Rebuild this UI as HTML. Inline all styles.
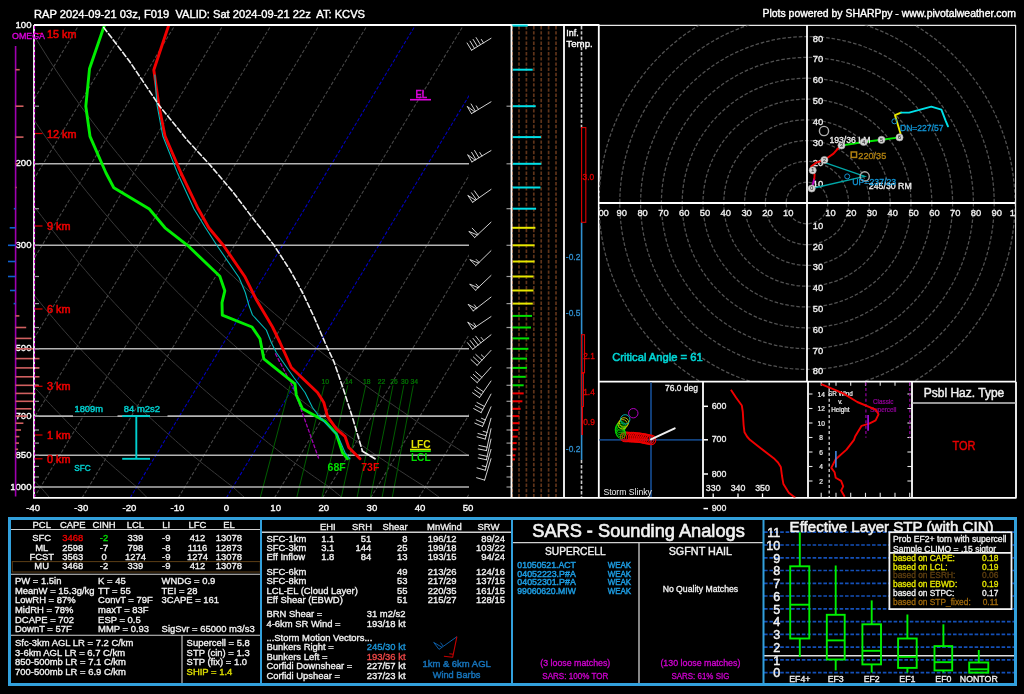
<!DOCTYPE html>
<html><head><meta charset="utf-8"><title>SHARPpy sounding</title>
<style>
html,body{margin:0;padding:0;background:#000;overflow:hidden}
svg{display:block;will-change:transform;font-family:"Liberation Sans",sans-serif}
text{white-space:pre}
</style></head><body>
<svg width="1024" height="694" viewBox="0 0 1024 694">
<rect x="0" y="0" width="1024" height="694" fill="#000"/>
<defs>
<clipPath id="skc"><rect x="34" y="25" width="435" height="472.5"/></clipPath>
<clipPath id="hoc"><rect x="599" y="25.5" width="417" height="356"/></clipPath>
<clipPath id="sl"><rect x="599" y="382" width="104" height="115.5"/></clipPath>
<clipPath id="thc"><rect x="703" y="382" width="105" height="115.5"/></clipPath>
<clipPath id="insc"><rect x="889" y="532" width="123" height="20.2"/></clipPath>
<clipPath id="src"><rect x="808" y="382" width="104" height="115.5"/></clipPath>
</defs>
<text x="34.0" y="18.0" font-size="10.30" fill="#fff" text-anchor="start" stroke="#fff" stroke-width="0.37" textLength="331.0" lengthAdjust="spacingAndGlyphs">RAP 2024-09-21 03z, F019  VALID: Sat 2024-09-21 22z  AT: KCVS</text>
<text x="1016.0" y="17.0" font-size="10.30" fill="#fff" text-anchor="end" stroke="#fff" stroke-width="0.37" textLength="253.5" lengthAdjust="spacingAndGlyphs">Plots powered by SHARPpy - www.pivotalweather.com</text>
<g clip-path="url(#skc)">
<polyline points="49.7,497.8 47.9,495.7 46.1,493.5 44.2,491.4 42.4,489.2 40.5,487.0 38.5,485.0 36.4,483.1 34.4,481.1 32.3,479.0 30.2,477.0 28.2,474.9 26.0,472.8 23.9,470.7 21.8,468.6 19.7,466.4 17.5,464.3 15.3,462.1 13.2,459.8 11.0,457.6 8.8,455.3 6.6,452.9 4.4,450.5 2.2,448.0 -0.0,445.6 -2.2,443.1 -4.5,440.5 -6.7,437.9 -9.0,435.3 -11.3,432.7 -13.6,430.0 -15.9,427.3 -18.2,424.6 -20.6,421.8 -23.0,419.0 -25.3,416.1 -27.8,413.2 -30.2,410.3 -32.7,407.3 -35.1,404.3 -37.6,401.3 -40.1,398.2 -42.7,395.0 -45.2,391.8 -47.8,388.6 -50.4,385.3 -53.0,381.9 -55.6,378.5 -58.3,375.0 -61.0,371.5 -63.7,367.9 -66.4,364.2 -69.2,360.5 -71.9,356.6 -74.7,352.8 -77.6,348.8 -80.4,344.7 -83.2,340.5 -86.1,336.3 -89.0,331.9 -92.0,327.5 -94.9,322.9 -97.9,318.2 -100.9,313.5 -104.0,308.6 -107.1,303.6 -110.2,298.5 -113.4,293.2 -116.6,287.8 -119.8,282.2 -123.1,276.5 -126.4,270.7 -129.7,264.6 -133.1,258.4 -136.6,251.9 -140.0,245.3 -143.6,238.5 -147.2,231.4 -150.8,224.1 -154.5,216.5 -158.3,208.7 -162.1,200.4 -165.9,191.9 -169.8,183.0 -173.8,173.6 -177.8,163.8 -181.9,153.5 -186.1,142.7 -190.3,131.3 -194.6,119.1 -198.9,106.2 -203.3,92.4 -207.7,77.5 -212.2,61.5 -216.7,44.1 -221.3,25.0" fill="none" stroke="#383838" stroke-width="1"/>
<polyline points="147.3,497.8 145.2,495.7 143.1,493.5 141.0,491.4 138.9,489.2 136.7,487.0 134.4,485.0 132.1,483.1 129.8,481.1 127.4,479.0 125.0,477.0 122.7,474.9 120.3,472.8 117.9,470.7 115.4,468.6 113.0,466.4 110.6,464.3 108.1,462.1 105.6,459.8 103.1,457.6 100.6,455.3 98.1,452.9 95.6,450.5 93.1,448.0 90.6,445.6 88.0,443.1 85.5,440.5 82.9,437.9 80.3,435.3 77.7,432.7 75.0,430.0 72.4,427.3 69.7,424.6 67.0,421.8 64.3,419.0 61.5,416.1 58.8,413.2 56.0,410.3 53.1,407.3 50.3,404.3 47.4,401.3 44.6,398.2 41.6,395.0 38.7,391.8 35.7,388.6 32.8,385.3 29.7,381.9 26.7,378.5 23.6,375.0 20.5,371.5 17.4,367.9 14.3,364.2 11.1,360.5 7.9,356.6 4.6,352.8 1.4,348.8 -1.9,344.7 -5.2,340.5 -8.6,336.3 -12.0,331.9 -15.4,327.5 -18.8,322.9 -22.3,318.2 -25.9,313.5 -29.4,308.6 -33.1,303.6 -36.7,298.5 -40.4,293.2 -44.2,287.8 -48.0,282.2 -51.8,276.5 -55.7,270.7 -59.7,264.6 -63.7,258.4 -67.7,251.9 -71.8,245.3 -76.0,238.5 -80.3,231.4 -84.6,224.1 -89.1,216.5 -93.5,208.7 -98.1,200.4 -102.7,191.9 -107.4,183.0 -112.2,173.6 -117.1,163.8 -122.1,153.5 -127.1,142.7 -132.3,131.3 -137.6,119.1 -143.0,106.2 -148.5,92.4 -154.0,77.5 -159.7,61.5 -165.5,44.1 -171.4,25.0" fill="none" stroke="#383838" stroke-width="1"/>
<polyline points="244.8,497.8 242.5,495.7 240.1,493.5 237.7,491.4 235.3,489.2 232.9,487.0 230.3,485.0 227.7,483.1 225.1,481.1 222.5,479.0 219.8,477.0 217.2,474.9 214.5,472.8 211.8,470.7 209.1,468.6 206.4,466.4 203.6,464.3 200.8,462.1 198.1,459.8 195.3,457.6 192.4,455.3 189.6,452.9 186.8,450.5 184.0,448.0 181.2,445.6 178.3,443.1 175.4,440.5 172.5,437.9 169.6,435.3 166.6,432.7 163.6,430.0 160.6,427.3 157.6,424.6 154.6,421.8 151.5,419.0 148.4,416.1 145.3,413.2 142.1,410.3 138.9,407.3 135.7,404.3 132.5,401.3 129.2,398.2 125.9,395.0 122.6,391.8 119.3,388.6 115.9,385.3 112.5,381.9 109.0,378.5 105.6,375.0 102.1,371.5 98.5,367.9 94.9,364.2 91.3,360.5 87.7,356.6 84.0,352.8 80.3,348.8 76.5,344.7 72.8,340.5 69.0,336.3 65.1,331.9 61.2,327.5 57.2,322.9 53.3,318.2 49.2,313.5 45.1,308.6 41.0,303.6 36.8,298.5 32.5,293.2 28.2,287.8 23.9,282.2 19.5,276.5 15.0,270.7 10.4,264.6 5.8,258.4 1.1,251.9 -3.6,245.3 -8.5,238.5 -13.4,231.4 -18.5,224.1 -23.6,216.5 -28.8,208.7 -34.1,200.4 -39.5,191.9 -45.0,183.0 -50.6,173.6 -56.3,163.8 -62.2,153.5 -68.2,142.7 -74.3,131.3 -80.6,119.1 -87.0,106.2 -93.6,92.4 -100.3,77.5 -107.2,61.5 -114.3,44.1 -121.6,25.0" fill="none" stroke="#383838" stroke-width="1"/>
<polyline points="342.4,497.8 339.8,495.7 337.1,493.5 334.5,491.4 331.8,489.2 329.1,487.0 326.3,485.0 323.4,483.1 320.5,481.1 317.6,479.0 314.6,477.0 311.7,474.9 308.7,472.8 305.7,470.7 302.7,468.6 299.7,466.4 296.7,464.3 293.6,462.1 290.5,459.8 287.4,457.6 284.3,455.3 281.2,452.9 278.0,450.5 274.9,448.0 271.7,445.6 268.5,443.1 265.3,440.5 262.1,437.9 258.8,435.3 255.5,432.7 252.2,430.0 248.9,427.3 245.5,424.6 242.2,421.8 238.7,419.0 235.3,416.1 231.8,413.2 228.3,410.3 224.7,407.3 221.2,404.3 217.6,401.3 213.9,398.2 210.2,395.0 206.5,391.8 202.8,388.6 199.0,385.3 195.2,381.9 191.4,378.5 187.5,375.0 183.6,371.5 179.6,367.9 175.6,364.2 171.6,360.5 167.5,356.6 163.4,352.8 159.2,348.8 155.0,344.7 150.8,340.5 146.5,336.3 142.2,331.9 137.8,327.5 133.3,322.9 128.8,318.2 124.3,313.5 119.7,308.6 115.0,303.6 110.3,298.5 105.5,293.2 100.7,287.8 95.7,282.2 90.7,276.5 85.7,270.7 80.5,264.6 75.3,258.4 70.0,251.9 64.6,245.3 59.0,238.5 53.4,231.4 47.7,224.1 41.9,216.5 35.9,208.7 29.9,200.4 23.7,191.9 17.4,183.0 11.0,173.6 4.4,163.8 -2.3,153.5 -9.3,142.7 -16.3,131.3 -23.6,119.1 -31.1,106.2 -38.7,92.4 -46.6,77.5 -54.8,61.5 -63.1,44.1 -71.8,25.0" fill="none" stroke="#383838" stroke-width="1"/>
<polyline points="439.9,497.8 437.1,495.7 434.1,493.5 431.2,491.4 428.3,489.2 425.3,487.0 422.2,485.0 419.0,483.1 415.9,481.1 412.7,479.0 409.4,477.0 406.2,474.9 403.0,472.8 399.7,470.7 396.4,468.6 393.1,466.4 389.7,464.3 386.3,462.1 383.0,459.8 379.5,457.6 376.1,455.3 372.7,452.9 369.3,450.5 365.8,448.0 362.3,445.6 358.8,443.1 355.3,440.5 351.7,437.9 348.1,435.3 344.5,432.7 340.8,430.0 337.2,427.3 333.5,424.6 329.7,421.8 326.0,419.0 322.2,416.1 318.3,413.2 314.5,410.3 310.5,407.3 306.6,404.3 302.6,401.3 298.6,398.2 294.6,395.0 290.5,391.8 286.3,388.6 282.2,385.3 278.0,381.9 273.7,378.5 269.4,375.0 265.1,371.5 260.7,367.9 256.3,364.2 251.8,360.5 247.3,356.6 242.7,352.8 238.1,348.8 233.5,344.7 228.8,340.5 224.0,336.3 219.2,331.9 214.3,327.5 209.4,322.9 204.4,318.2 199.4,313.5 194.3,308.6 189.1,303.6 183.8,298.5 178.5,293.2 173.1,287.8 167.6,282.2 162.0,276.5 156.3,270.7 150.6,264.6 144.8,258.4 138.8,251.9 132.8,245.3 126.6,238.5 120.3,231.4 113.9,224.1 107.4,216.5 100.7,208.7 93.9,200.4 86.9,191.9 79.8,183.0 72.6,173.6 65.1,163.8 57.5,153.5 49.7,142.7 41.6,131.3 33.4,119.1 24.9,106.2 16.1,92.4 7.1,77.5 -2.3,61.5 -11.9,44.1 -21.9,25.0" fill="none" stroke="#383838" stroke-width="1"/>
<polyline points="537.5,497.8 534.3,495.7 531.2,493.5 528.0,491.4 524.8,489.2 521.5,487.0 518.1,485.0 514.7,483.1 511.2,481.1 507.7,479.0 504.2,477.0 500.7,474.9 497.2,472.8 493.6,470.7 490.0,468.6 486.4,466.4 482.8,464.3 479.1,462.1 475.4,459.8 471.7,457.6 467.9,455.3 464.2,452.9 460.5,450.5 456.7,448.0 452.9,445.6 449.1,443.1 445.2,440.5 441.3,437.9 437.4,435.3 433.4,432.7 429.5,430.0 425.4,427.3 421.4,424.6 417.3,421.8 413.2,419.0 409.1,416.1 404.9,413.2 400.6,410.3 396.3,407.3 392.0,404.3 387.7,401.3 383.3,398.2 378.9,395.0 374.4,391.8 369.9,388.6 365.3,385.3 360.7,381.9 356.0,378.5 351.3,375.0 346.6,371.5 341.8,367.9 337.0,364.2 332.1,360.5 327.1,356.6 322.1,352.8 317.0,348.8 311.9,344.7 306.8,340.5 301.6,336.3 296.3,331.9 290.9,327.5 285.5,322.9 280.0,318.2 274.5,313.5 268.8,308.6 263.1,303.6 257.3,298.5 251.4,293.2 245.5,287.8 239.4,282.2 233.3,276.5 227.0,270.7 220.7,264.6 214.2,258.4 207.7,251.9 201.0,245.3 194.1,238.5 187.2,231.4 180.1,224.1 172.8,216.5 165.4,208.7 157.9,200.4 150.2,191.9 142.3,183.0 134.2,173.6 125.9,163.8 117.4,153.5 108.6,142.7 99.6,131.3 90.4,119.1 80.8,106.2 71.0,92.4 60.8,77.5 50.2,61.5 39.3,44.1 27.9,25.0" fill="none" stroke="#383838" stroke-width="1"/>
<line x1="-543.2" y1="497.8" x2="-257.9" y2="25.0" stroke="#484848" stroke-width="1.05" stroke-dasharray="3.5 1.8"/>
<line x1="-495.1" y1="497.8" x2="-209.8" y2="25.0" stroke="#484848" stroke-width="1.05" stroke-dasharray="3.5 1.8"/>
<line x1="-447.0" y1="497.8" x2="-161.7" y2="25.0" stroke="#484848" stroke-width="1.05" stroke-dasharray="3.5 1.8"/>
<line x1="-398.9" y1="497.8" x2="-113.6" y2="25.0" stroke="#484848" stroke-width="1.05" stroke-dasharray="3.5 1.8"/>
<line x1="-350.8" y1="497.8" x2="-65.5" y2="25.0" stroke="#484848" stroke-width="1.05" stroke-dasharray="3.5 1.8"/>
<line x1="-302.7" y1="497.8" x2="-17.4" y2="25.0" stroke="#484848" stroke-width="1.05" stroke-dasharray="3.5 1.8"/>
<line x1="-254.6" y1="497.8" x2="30.7" y2="25.0" stroke="#484848" stroke-width="1.05" stroke-dasharray="3.5 1.8"/>
<line x1="-206.5" y1="497.8" x2="78.8" y2="25.0" stroke="#484848" stroke-width="1.05" stroke-dasharray="3.5 1.8"/>
<line x1="-158.4" y1="497.8" x2="126.9" y2="25.0" stroke="#484848" stroke-width="1.05" stroke-dasharray="3.5 1.8"/>
<line x1="-110.3" y1="497.8" x2="175.0" y2="25.0" stroke="#484848" stroke-width="1.05" stroke-dasharray="3.5 1.8"/>
<line x1="-62.2" y1="497.8" x2="223.1" y2="25.0" stroke="#484848" stroke-width="1.05" stroke-dasharray="3.5 1.8"/>
<line x1="-14.1" y1="497.8" x2="271.2" y2="25.0" stroke="#484848" stroke-width="1.05" stroke-dasharray="3.5 1.8"/>
<line x1="34.0" y1="497.8" x2="319.3" y2="25.0" stroke="#484848" stroke-width="1.05" stroke-dasharray="3.5 1.8"/>
<line x1="82.1" y1="497.8" x2="367.4" y2="25.0" stroke="#484848" stroke-width="1.05" stroke-dasharray="3.5 1.8"/>
<line x1="130.2" y1="497.8" x2="415.5" y2="25.0" stroke="#0000c0" stroke-width="1.05" stroke-dasharray="3.5 1.8"/>
<line x1="178.3" y1="497.8" x2="463.6" y2="25.0" stroke="#484848" stroke-width="1.05" stroke-dasharray="3.5 1.8"/>
<line x1="226.4" y1="497.8" x2="511.7" y2="25.0" stroke="#0000c0" stroke-width="1.05" stroke-dasharray="3.5 1.8"/>
<line x1="274.5" y1="497.8" x2="559.8" y2="25.0" stroke="#484848" stroke-width="1.05" stroke-dasharray="3.5 1.8"/>
<line x1="322.6" y1="497.8" x2="607.9" y2="25.0" stroke="#484848" stroke-width="1.05" stroke-dasharray="3.5 1.8"/>
<line x1="370.7" y1="497.8" x2="656.0" y2="25.0" stroke="#484848" stroke-width="1.05" stroke-dasharray="3.5 1.8"/>
<line x1="418.8" y1="497.8" x2="704.1" y2="25.0" stroke="#484848" stroke-width="1.05" stroke-dasharray="3.5 1.8"/>
<line x1="466.9" y1="497.8" x2="752.2" y2="25.0" stroke="#484848" stroke-width="1.05" stroke-dasharray="3.5 1.8"/>
<line x1="260.2" y1="497.8" x2="290.1" y2="385.3" stroke="#005e00" stroke-width="1"/>
<line x1="296.7" y1="497.8" x2="324.3" y2="385.3" stroke="#005e00" stroke-width="1"/>
<line x1="321.9" y1="497.8" x2="347.8" y2="385.3" stroke="#005e00" stroke-width="1"/>
<line x1="341.2" y1="497.8" x2="365.8" y2="385.3" stroke="#005e00" stroke-width="1"/>
<line x1="357.0" y1="497.8" x2="380.5" y2="385.3" stroke="#005e00" stroke-width="1"/>
<line x1="370.4" y1="497.8" x2="393.0" y2="385.3" stroke="#005e00" stroke-width="1"/>
<line x1="382.0" y1="497.8" x2="403.8" y2="385.3" stroke="#005e00" stroke-width="1"/>
<line x1="392.2" y1="497.8" x2="413.3" y2="385.3" stroke="#005e00" stroke-width="1"/>
</g>
<text x="325.3" y="383.5" font-size="6.80" fill="#007800" text-anchor="middle" stroke="#007800" stroke-width="0.24">10</text>
<text x="348.8" y="383.5" font-size="6.80" fill="#007800" text-anchor="middle" stroke="#007800" stroke-width="0.24">14</text>
<text x="366.8" y="383.5" font-size="6.80" fill="#007800" text-anchor="middle" stroke="#007800" stroke-width="0.24">18</text>
<text x="381.5" y="383.5" font-size="6.80" fill="#007800" text-anchor="middle" stroke="#007800" stroke-width="0.24">22</text>
<text x="394.0" y="383.5" font-size="6.80" fill="#007800" text-anchor="middle" stroke="#007800" stroke-width="0.24">26</text>
<text x="404.8" y="383.5" font-size="6.80" fill="#007800" text-anchor="middle" stroke="#007800" stroke-width="0.24">30</text>
<text x="414.3" y="383.5" font-size="6.80" fill="#007800" text-anchor="middle" stroke="#007800" stroke-width="0.24">34</text>
<line x1="34.0" y1="163.8" x2="469.0" y2="163.8" stroke="#b4b4b4" stroke-width="1.6"/>
<line x1="34.0" y1="245.3" x2="469.0" y2="245.3" stroke="#b4b4b4" stroke-width="1.6"/>
<line x1="34.0" y1="348.8" x2="469.0" y2="348.8" stroke="#b4b4b4" stroke-width="1.6"/>
<line x1="34.0" y1="416.1" x2="469.0" y2="416.1" stroke="#b4b4b4" stroke-width="1.6"/>
<line x1="34.0" y1="455.3" x2="469.0" y2="455.3" stroke="#b4b4b4" stroke-width="1.6"/>
<line x1="34.0" y1="487.0" x2="469.0" y2="487.0" stroke="#b4b4b4" stroke-width="1.6"/>
<line x1="34.0" y1="106.2" x2="39.0" y2="106.2" stroke="#9a9a9a" stroke-width="1.2"/>
<line x1="506.5" y1="106.2" x2="511.5" y2="106.2" stroke="#9a9a9a" stroke-width="1.2"/>
<line x1="34.0" y1="163.8" x2="39.0" y2="163.8" stroke="#9a9a9a" stroke-width="1.2"/>
<line x1="506.5" y1="163.8" x2="511.5" y2="163.8" stroke="#9a9a9a" stroke-width="1.2"/>
<line x1="34.0" y1="208.7" x2="39.0" y2="208.7" stroke="#9a9a9a" stroke-width="1.2"/>
<line x1="506.5" y1="208.7" x2="511.5" y2="208.7" stroke="#9a9a9a" stroke-width="1.2"/>
<line x1="34.0" y1="245.3" x2="39.0" y2="245.3" stroke="#9a9a9a" stroke-width="1.2"/>
<line x1="506.5" y1="245.3" x2="511.5" y2="245.3" stroke="#9a9a9a" stroke-width="1.2"/>
<line x1="34.0" y1="276.5" x2="39.0" y2="276.5" stroke="#9a9a9a" stroke-width="1.2"/>
<line x1="506.5" y1="276.5" x2="511.5" y2="276.5" stroke="#9a9a9a" stroke-width="1.2"/>
<line x1="34.0" y1="303.6" x2="39.0" y2="303.6" stroke="#9a9a9a" stroke-width="1.2"/>
<line x1="506.5" y1="303.6" x2="511.5" y2="303.6" stroke="#9a9a9a" stroke-width="1.2"/>
<line x1="34.0" y1="327.5" x2="39.0" y2="327.5" stroke="#9a9a9a" stroke-width="1.2"/>
<line x1="506.5" y1="327.5" x2="511.5" y2="327.5" stroke="#9a9a9a" stroke-width="1.2"/>
<line x1="34.0" y1="348.8" x2="39.0" y2="348.8" stroke="#9a9a9a" stroke-width="1.2"/>
<line x1="506.5" y1="348.8" x2="511.5" y2="348.8" stroke="#9a9a9a" stroke-width="1.2"/>
<line x1="34.0" y1="367.9" x2="39.0" y2="367.9" stroke="#9a9a9a" stroke-width="1.2"/>
<line x1="506.5" y1="367.9" x2="511.5" y2="367.9" stroke="#9a9a9a" stroke-width="1.2"/>
<line x1="34.0" y1="385.3" x2="39.0" y2="385.3" stroke="#9a9a9a" stroke-width="1.2"/>
<line x1="506.5" y1="385.3" x2="511.5" y2="385.3" stroke="#9a9a9a" stroke-width="1.2"/>
<line x1="34.0" y1="401.3" x2="39.0" y2="401.3" stroke="#9a9a9a" stroke-width="1.2"/>
<line x1="506.5" y1="401.3" x2="511.5" y2="401.3" stroke="#9a9a9a" stroke-width="1.2"/>
<line x1="34.0" y1="416.1" x2="39.0" y2="416.1" stroke="#9a9a9a" stroke-width="1.2"/>
<line x1="506.5" y1="416.1" x2="511.5" y2="416.1" stroke="#9a9a9a" stroke-width="1.2"/>
<line x1="34.0" y1="430.0" x2="39.0" y2="430.0" stroke="#9a9a9a" stroke-width="1.2"/>
<line x1="506.5" y1="430.0" x2="511.5" y2="430.0" stroke="#9a9a9a" stroke-width="1.2"/>
<line x1="34.0" y1="443.1" x2="39.0" y2="443.1" stroke="#9a9a9a" stroke-width="1.2"/>
<line x1="506.5" y1="443.1" x2="511.5" y2="443.1" stroke="#9a9a9a" stroke-width="1.2"/>
<line x1="34.0" y1="455.3" x2="39.0" y2="455.3" stroke="#9a9a9a" stroke-width="1.2"/>
<line x1="506.5" y1="455.3" x2="511.5" y2="455.3" stroke="#9a9a9a" stroke-width="1.2"/>
<line x1="34.0" y1="466.4" x2="39.0" y2="466.4" stroke="#9a9a9a" stroke-width="1.2"/>
<line x1="506.5" y1="466.4" x2="511.5" y2="466.4" stroke="#9a9a9a" stroke-width="1.2"/>
<line x1="34.0" y1="477.0" x2="39.0" y2="477.0" stroke="#9a9a9a" stroke-width="1.2"/>
<line x1="506.5" y1="477.0" x2="511.5" y2="477.0" stroke="#9a9a9a" stroke-width="1.2"/>
<line x1="34.0" y1="487.0" x2="39.0" y2="487.0" stroke="#9a9a9a" stroke-width="1.2"/>
<line x1="506.5" y1="487.0" x2="511.5" y2="487.0" stroke="#9a9a9a" stroke-width="1.2"/>
<text x="31.5" y="28.3" font-size="9.60" fill="#fff" text-anchor="end" stroke="#fff" stroke-width="0.35">100</text>
<text x="31.5" y="166.3" font-size="9.60" fill="#fff" text-anchor="end" stroke="#fff" stroke-width="0.35">200</text>
<text x="31.5" y="247.8" font-size="9.60" fill="#fff" text-anchor="end" stroke="#fff" stroke-width="0.35">300</text>
<text x="31.5" y="351.3" font-size="9.60" fill="#fff" text-anchor="end" stroke="#fff" stroke-width="0.35">500</text>
<text x="31.5" y="418.6" font-size="9.60" fill="#fff" text-anchor="end" stroke="#fff" stroke-width="0.35">700</text>
<text x="31.5" y="457.8" font-size="9.60" fill="#fff" text-anchor="end" stroke="#fff" stroke-width="0.35">850</text>
<text x="31.5" y="489.5" font-size="9.60" fill="#fff" text-anchor="end" stroke="#fff" stroke-width="0.35">1000</text>
<text x="33.2" y="511.3" font-size="9.60" fill="#fff" text-anchor="middle" stroke="#fff" stroke-width="0.35">-40</text>
<text x="81.3" y="511.3" font-size="9.60" fill="#fff" text-anchor="middle" stroke="#fff" stroke-width="0.35">-30</text>
<text x="129.4" y="511.3" font-size="9.60" fill="#fff" text-anchor="middle" stroke="#fff" stroke-width="0.35">-20</text>
<text x="177.5" y="511.3" font-size="9.60" fill="#fff" text-anchor="middle" stroke="#fff" stroke-width="0.35">-10</text>
<text x="226.4" y="511.3" font-size="9.60" fill="#fff" text-anchor="middle" stroke="#fff" stroke-width="0.35">0</text>
<text x="275.7" y="511.3" font-size="9.60" fill="#fff" text-anchor="middle" stroke="#fff" stroke-width="0.35">10</text>
<text x="323.8" y="511.3" font-size="9.60" fill="#fff" text-anchor="middle" stroke="#fff" stroke-width="0.35">20</text>
<text x="371.9" y="511.3" font-size="9.60" fill="#fff" text-anchor="middle" stroke="#fff" stroke-width="0.35">30</text>
<text x="420.0" y="511.3" font-size="9.60" fill="#fff" text-anchor="middle" stroke="#fff" stroke-width="0.35">40</text>
<text x="468.1" y="511.3" font-size="9.60" fill="#fff" text-anchor="middle" stroke="#fff" stroke-width="0.35">50</text>
<line x1="15.6" y1="46.0" x2="15.6" y2="496.5" stroke="#a000b0" stroke-width="1.6"/>
<line x1="15.6" y1="69.7" x2="19.7" y2="69.7" stroke="#d06060" stroke-width="1.6"/>
<line x1="15.6" y1="106.2" x2="23.5" y2="106.2" stroke="#d06060" stroke-width="1.6"/>
<line x1="15.6" y1="137.1" x2="23.5" y2="137.1" stroke="#d06060" stroke-width="1.6"/>
<line x1="15.6" y1="163.8" x2="17.6" y2="163.8" stroke="#d06060" stroke-width="1.6"/>
<line x1="15.6" y1="187.5" x2="16.6" y2="187.5" stroke="#d06060" stroke-width="1.6"/>
<line x1="15.6" y1="208.7" x2="13.8" y2="208.7" stroke="#1060d0" stroke-width="1.6"/>
<line x1="15.6" y1="227.8" x2="9.7" y2="227.8" stroke="#1060d0" stroke-width="1.6"/>
<line x1="15.6" y1="245.3" x2="8.0" y2="245.3" stroke="#1060d0" stroke-width="1.6"/>
<line x1="15.6" y1="261.5" x2="8.0" y2="261.5" stroke="#1060d0" stroke-width="1.6"/>
<line x1="15.6" y1="276.5" x2="8.0" y2="276.5" stroke="#1060d0" stroke-width="1.6"/>
<line x1="15.6" y1="290.5" x2="10.0" y2="290.5" stroke="#1060d0" stroke-width="1.6"/>
<line x1="15.6" y1="303.6" x2="13.6" y2="303.6" stroke="#1060d0" stroke-width="1.6"/>
<line x1="15.6" y1="315.9" x2="19.4" y2="315.9" stroke="#d06060" stroke-width="1.6"/>
<line x1="15.6" y1="327.5" x2="26.2" y2="327.5" stroke="#d06060" stroke-width="1.6"/>
<line x1="15.6" y1="338.4" x2="31.5" y2="338.4" stroke="#d06060" stroke-width="1.6"/>
<line x1="15.6" y1="348.8" x2="34.3" y2="348.8" stroke="#d06060" stroke-width="1.6"/>
<line x1="15.6" y1="358.6" x2="39.5" y2="358.6" stroke="#d06060" stroke-width="1.6"/>
<line x1="15.6" y1="367.9" x2="39.5" y2="367.9" stroke="#d06060" stroke-width="1.6"/>
<line x1="15.6" y1="376.8" x2="39.5" y2="376.8" stroke="#d06060" stroke-width="1.6"/>
<line x1="15.6" y1="385.3" x2="38.3" y2="385.3" stroke="#d06060" stroke-width="1.6"/>
<line x1="15.6" y1="393.4" x2="35.5" y2="393.4" stroke="#d06060" stroke-width="1.6"/>
<line x1="15.6" y1="401.3" x2="34.3" y2="401.3" stroke="#d06060" stroke-width="1.6"/>
<line x1="15.6" y1="408.8" x2="31.5" y2="408.8" stroke="#d06060" stroke-width="1.6"/>
<line x1="15.6" y1="416.1" x2="27.4" y2="416.1" stroke="#d06060" stroke-width="1.6"/>
<line x1="15.6" y1="423.2" x2="23.4" y2="423.2" stroke="#d06060" stroke-width="1.6"/>
<line x1="15.6" y1="430.0" x2="21.0" y2="430.0" stroke="#d06060" stroke-width="1.6"/>
<line x1="15.6" y1="436.6" x2="19.4" y2="436.6" stroke="#d06060" stroke-width="1.6"/>
<line x1="15.6" y1="443.1" x2="19.0" y2="443.1" stroke="#d06060" stroke-width="1.6"/>
<line x1="15.6" y1="449.3" x2="18.1" y2="449.3" stroke="#d06060" stroke-width="1.6"/>
<line x1="15.6" y1="455.3" x2="17.0" y2="455.3" stroke="#d06060" stroke-width="1.6"/>
<line x1="34.0" y1="33.5" x2="42.5" y2="33.5" stroke="#d00000" stroke-width="1.25"/>
<text x="47.0" y="38.4" font-size="10.80" fill="#e80000" text-anchor="start" stroke="#e80000" stroke-width="0.59">15 km</text>
<line x1="34.0" y1="133.5" x2="42.5" y2="133.5" stroke="#d00000" stroke-width="1.25"/>
<text x="47.0" y="137.5" font-size="10.80" fill="#e80000" text-anchor="start" stroke="#e80000" stroke-width="0.59">12 km</text>
<line x1="34.0" y1="226.0" x2="42.5" y2="226.0" stroke="#d00000" stroke-width="1.25"/>
<text x="47.0" y="230.0" font-size="10.80" fill="#e80000" text-anchor="start" stroke="#e80000" stroke-width="0.59">9 km</text>
<line x1="34.0" y1="309.0" x2="42.5" y2="309.0" stroke="#d00000" stroke-width="1.25"/>
<text x="47.0" y="313.0" font-size="10.80" fill="#e80000" text-anchor="start" stroke="#e80000" stroke-width="0.59">6 km</text>
<line x1="34.0" y1="386.3" x2="42.5" y2="386.3" stroke="#d00000" stroke-width="1.25"/>
<text x="47.0" y="390.3" font-size="10.80" fill="#e80000" text-anchor="start" stroke="#e80000" stroke-width="0.59">3 km</text>
<line x1="34.0" y1="435.0" x2="42.5" y2="435.0" stroke="#d00000" stroke-width="1.25"/>
<text x="47.0" y="439.0" font-size="10.80" fill="#e80000" text-anchor="start" stroke="#e80000" stroke-width="0.59">1 km</text>
<line x1="34.0" y1="458.8" x2="42.5" y2="458.8" stroke="#d00000" stroke-width="1.25"/>
<text x="47.0" y="462.8" font-size="10.80" fill="#e80000" text-anchor="start" stroke="#e80000" stroke-width="0.59">0 km</text>
<g clip-path="url(#skc)" stroke-linejoin="round" stroke-linecap="round">
<polyline points="275.5,353.8 284.0,370.0 293.8,388.8 306.0,423.0 318.8,458.8" fill="none" stroke="#a000b0" stroke-width="1.3" stroke-dasharray="3 2.5"/>
<polyline points="104.5,25.0 89.5,68.8 85.8,106.3 90.0,136.3 106.0,173.0 113.8,187.8 149.3,209.0 165.0,227.8 187.5,245.3 219.8,276.2 224.8,290.8 222.0,302.6 222.3,315.2 252.0,327.0 260.0,338.8 263.8,358.8 295.0,383.8 296.3,395.0 302.5,408.8 325.0,421.3 336.3,433.8 342.5,452.5 347.5,458.8" fill="none" stroke="#00ee00" stroke-width="2.9"/>
<polyline points="168.8,25.0 153.8,70.0 158.8,105.0 165.0,136.0 181.0,173.0 198.2,208.8 208.8,227.8 223.3,245.2 244.6,276.2 256.5,300.0 272.5,327.0 280.0,342.5 291.3,367.5 317.5,392.5 323.8,402.5 327.5,416.3 336.3,428.8 345.0,436.3 348.8,447.5 360.0,458.8" fill="none" stroke="#f00000" stroke-width="2.9"/>
<polyline points="154.8,75.0 157.0,105.0 162.8,136.0 177.5,173.0 194.0,209.0 205.0,227.0 216.8,245.3 239.0,277.5 245.3,292.5 248.8,305.0 252.5,315.0 266.3,330.0 271.3,342.5 276.3,352.5 293.8,377.5 305.0,392.5 312.5,407.5 320.0,417.5 337.5,435.0 345.0,452.5 350.0,458.8" fill="none" stroke="#00b8b8" stroke-width="1.1"/>
<polyline points="103.8,27.5 130.0,62.0 158.8,105.0 188.0,141.0 210.0,165.0 233.0,192.0 251.3,216.3 273.8,245.0 290.0,270.0 302.5,292.5 314.0,317.0 325.0,342.5 333.8,361.3 343.0,388.0 352.5,417.5 362.5,451.3" fill="none" stroke="#f0f0f0" stroke-width="1.6" stroke-dasharray="5.2 2.6"/>
<polyline points="362.5,451.3 375.0,458.8" fill="none" stroke="#f0f0f0" stroke-width="1.8"/>
</g>
<text x="327.6" y="470.6" font-size="10.60" fill="#00e000" text-anchor="start" font-weight="bold" textLength="18.2" lengthAdjust="spacingAndGlyphs">68F</text>
<text x="361.2" y="470.6" font-size="10.60" fill="#f00000" text-anchor="start" font-weight="bold" textLength="18.2" lengthAdjust="spacingAndGlyphs">73F</text>
<text x="420.8" y="447.6" font-size="10.40" fill="#e6e600" text-anchor="middle" font-weight="bold" textLength="19.8" lengthAdjust="spacingAndGlyphs">LFC</text>
<line x1="410.0" y1="449.6" x2="430.8" y2="449.6" stroke="#e6e600" stroke-width="1.8"/>
<line x1="410.0" y1="451.2" x2="430.8" y2="451.2" stroke="#00e000" stroke-width="1.6"/>
<text x="420.8" y="461.3" font-size="10.40" fill="#00e000" text-anchor="middle" font-weight="bold" textLength="19.8" lengthAdjust="spacingAndGlyphs">LCL</text>
<text x="421.3" y="98.3" font-size="10.60" fill="#e000e0" text-anchor="middle" stroke="#e000e0" stroke-width="0.58" textLength="11.5" lengthAdjust="spacingAndGlyphs">EL</text>
<line x1="410.0" y1="99.7" x2="431.0" y2="99.7" stroke="#e000e0" stroke-width="1.6"/>
<rect x="73.0" y="414.5" width="44.5" height="1.9" stroke="none" fill="#000" stroke-width="1"/>
<rect x="150.0" y="414.5" width="17.5" height="1.9" stroke="none" fill="#000" stroke-width="1"/>
<line x1="136.3" y1="416.1" x2="136.3" y2="458.8" stroke="#00d0d0" stroke-width="1.9"/>
<line x1="122.2" y1="416.1" x2="150.0" y2="416.1" stroke="#00d0d0" stroke-width="1.9"/>
<line x1="122.2" y1="458.8" x2="150.0" y2="458.8" stroke="#00d0d0" stroke-width="1.9"/>
<text x="74.5" y="411.7" font-size="9.20" fill="#00cccc" text-anchor="start" stroke="#00cccc" stroke-width="0.46" textLength="28.5" lengthAdjust="spacingAndGlyphs">1809m</text>
<text x="123.8" y="411.7" font-size="9.20" fill="#00cccc" text-anchor="start" stroke="#00cccc" stroke-width="0.46" textLength="36.2" lengthAdjust="spacingAndGlyphs">84 m2s2</text>
<text x="74.2" y="470.8" font-size="9.20" fill="#00cccc" text-anchor="start" stroke="#00cccc" stroke-width="0.46" textLength="16.4" lengthAdjust="spacingAndGlyphs">SFC</text>
<path d="M491.0 38.3 L471.5 50.2 M471.5 50.2 L467.1 43.0 M474.5 48.4 L470.1 41.2 M477.5 46.6 L473.1 39.4 M480.5 44.7 L476.1 37.6 M483.5 42.9 L481.3 39.4" fill="none" stroke="#e8e8e8" stroke-width="0.9" stroke-linecap="round"/>
<path d="M491.0 101.8 L471.5 113.6 M471.5 113.6 L467.2 106.4 L474.6 111.7 M475.4 111.2 L471.1 104.0 M478.4 109.4 L476.3 105.9" fill="none" stroke="#e8e8e8" stroke-width="0.9" stroke-linecap="round"/>
<path d="M491.0 150.6 L471.9 161.9 M471.9 161.9 L467.6 154.7 L475.0 160.1 M475.9 159.6 L471.6 152.3 M478.9 157.8 L474.6 150.5 M481.9 156.0 L479.8 152.5" fill="none" stroke="#e8e8e8" stroke-width="0.9" stroke-linecap="round"/>
<path d="M491.0 189.4 L472.6 202.3 M472.6 202.3 L467.8 195.4 L475.5 200.2 M476.4 199.7 L471.5 192.8 M479.2 197.7 L474.4 190.8" fill="none" stroke="#e8e8e8" stroke-width="0.9" stroke-linecap="round"/>
<path d="M491.0 222.2 L474.6 237.5 M474.6 237.5 L468.9 231.4 L477.2 235.0 M478.0 234.4 L472.2 228.2" fill="none" stroke="#e8e8e8" stroke-width="0.9" stroke-linecap="round"/>
<path d="M491.0 250.7 L475.8 265.6 M475.8 265.6 L469.9 259.6 L478.4 263.1 M479.1 262.4 L476.2 259.5" fill="none" stroke="#e8e8e8" stroke-width="0.9" stroke-linecap="round"/>
<path d="M491.0 275.5 L475.5 290.2 M475.5 290.2 L469.7 284.1 L478.1 287.7 M478.8 287.0 L476.0 284.1" fill="none" stroke="#e8e8e8" stroke-width="0.9" stroke-linecap="round"/>
<path d="M491.0 297.1 L473.2 310.9 M473.2 310.9 L468.1 304.3 L476.0 308.7 M476.8 308.1 L474.3 304.8" fill="none" stroke="#e8e8e8" stroke-width="0.9" stroke-linecap="round"/>
<path d="M491.0 316.6 L472.4 329.1 M472.4 329.1 L467.7 322.1 L475.4 327.1 M476.2 326.5 L473.9 323.1" fill="none" stroke="#e8e8e8" stroke-width="0.9" stroke-linecap="round"/>
<path d="M491.0 334.8 L472.7 349.3 M472.7 349.3 L467.5 342.7 M475.4 347.1 L470.2 340.5 M478.2 345.0 L473.0 338.4 M480.9 342.8 L475.7 336.2 M483.7 340.6 L481.1 337.4" fill="none" stroke="#e8e8e8" stroke-width="0.9" stroke-linecap="round"/>
<path d="M491.0 350.4 L477.2 365.3 M477.2 365.3 L471.0 359.6 M479.6 362.7 L473.4 357.0 M482.0 360.2 L475.8 354.5 M484.3 357.6 L481.3 354.8" fill="none" stroke="#e8e8e8" stroke-width="0.9" stroke-linecap="round"/>
<path d="M491.0 367.2 L477.2 382.6 M477.2 382.6 L470.9 377.0 M479.5 380.0 L473.3 374.4 M481.9 377.4 L475.6 371.8" fill="none" stroke="#e8e8e8" stroke-width="0.9" stroke-linecap="round"/>
<path d="M491.0 381.0 L479.5 397.6 M479.5 397.6 L472.6 392.8 M481.5 394.7 L474.6 389.9 M483.5 391.8 L476.6 387.1" fill="none" stroke="#e8e8e8" stroke-width="0.9" stroke-linecap="round"/>
<path d="M491.0 394.1 L481.1 412.6 M481.1 412.6 L473.7 408.6 M482.8 409.5 L475.3 405.6 M484.4 406.4 L477.0 402.5" fill="none" stroke="#e8e8e8" stroke-width="0.9" stroke-linecap="round"/>
<path d="M491.0 406.8 L482.5 426.4 M482.5 426.4 L474.8 423.1 M483.9 423.2 L476.2 419.8 M485.3 420.0 L481.5 418.3" fill="none" stroke="#e8e8e8" stroke-width="0.9" stroke-linecap="round"/>
<path d="M491.0 418.3 L485.2 439.1 M485.2 439.1 L477.1 436.8 M486.1 435.7 L478.0 433.5 M487.1 432.4 L483.1 431.3" fill="none" stroke="#e8e8e8" stroke-width="0.9" stroke-linecap="round"/>
<path d="M491.0 428.7 L486.4 450.6 M486.4 450.6 L478.2 448.9 M487.1 447.2 L478.9 445.4" fill="none" stroke="#e8e8e8" stroke-width="0.9" stroke-linecap="round"/>
<path d="M491.0 439.1 L486.4 459.8 M486.4 459.8 L478.2 458.0 M487.2 456.4 L479.0 454.6" fill="none" stroke="#e8e8e8" stroke-width="0.9" stroke-linecap="round"/>
<path d="M491.0 449.4 L485.2 470.2 M485.2 470.2 L477.1 467.9 M486.1 466.8 L482.2 465.7" fill="none" stroke="#e8e8e8" stroke-width="0.9" stroke-linecap="round"/>
<path d="M491.0 458.7 L484.6 480.1 M484.6 480.1 L476.6 477.7" fill="none" stroke="#e8e8e8" stroke-width="0.9" stroke-linecap="round"/>
<line x1="34.0" y1="25.0" x2="599.5" y2="25.0" stroke="#fff" stroke-width="1.8"/>
<line x1="599.0" y1="25.3" x2="1016.0" y2="25.3" stroke="#e8e8e8" stroke-width="1.2"/>
<line x1="34.0" y1="25.0" x2="34.0" y2="497.8" stroke="#fff" stroke-width="1.8"/>
<line x1="33.1" y1="497.8" x2="1016.5" y2="497.8" stroke="#fff" stroke-width="1.8"/>
<line x1="34.6" y1="26.0" x2="34.6" y2="497.0" stroke="#e000e0" stroke-width="1.0" stroke-dasharray="3 2.2"/>
<text x="12.0" y="38.5" font-size="8.60" fill="#e000e0" text-anchor="start" stroke="#e000e0" stroke-width="0.31" textLength="33.0" lengthAdjust="spacingAndGlyphs">OMEGA</text>
<line x1="519.0" y1="26.0" x2="519.0" y2="497.0" stroke="#5e3319" stroke-width="1.7" stroke-dasharray="3.4 1.8"/>
<line x1="526.4" y1="26.0" x2="526.4" y2="497.0" stroke="#5e3319" stroke-width="1.7" stroke-dasharray="3.4 1.8"/>
<line x1="533.8" y1="26.0" x2="533.8" y2="497.0" stroke="#5e3319" stroke-width="1.7" stroke-dasharray="3.4 1.8"/>
<line x1="541.2" y1="26.0" x2="541.2" y2="497.0" stroke="#5e3319" stroke-width="1.7" stroke-dasharray="3.4 1.8"/>
<line x1="548.6" y1="26.0" x2="548.6" y2="497.0" stroke="#5e3319" stroke-width="1.7" stroke-dasharray="3.4 1.8"/>
<line x1="556.0" y1="26.0" x2="556.0" y2="497.0" stroke="#5e3319" stroke-width="1.7" stroke-dasharray="3.4 1.8"/>
<line x1="511.5" y1="25.6" x2="527.7" y2="25.6" stroke="#00e0e8" stroke-width="2.0"/>
<line x1="511.5" y1="69.7" x2="532.7" y2="69.7" stroke="#00e0e8" stroke-width="2.0"/>
<line x1="511.5" y1="106.2" x2="535.7" y2="106.2" stroke="#00e0e8" stroke-width="2.0"/>
<line x1="511.5" y1="137.1" x2="541.0" y2="137.1" stroke="#00e0e8" stroke-width="2.0"/>
<line x1="511.5" y1="163.8" x2="541.3" y2="163.8" stroke="#00e0e8" stroke-width="2.0"/>
<line x1="511.5" y1="187.5" x2="540.5" y2="187.5" stroke="#00e0e8" stroke-width="2.0"/>
<line x1="511.5" y1="208.7" x2="536.1" y2="208.7" stroke="#00e0e8" stroke-width="2.0"/>
<line x1="511.5" y1="227.8" x2="535.4" y2="227.8" stroke="#e8e800" stroke-width="2.0"/>
<line x1="511.5" y1="245.3" x2="534.6" y2="245.3" stroke="#e8e800" stroke-width="2.0"/>
<line x1="511.5" y1="261.5" x2="534.6" y2="261.5" stroke="#e8e800" stroke-width="2.0"/>
<line x1="511.5" y1="276.5" x2="533.5" y2="276.5" stroke="#e8e800" stroke-width="2.0"/>
<line x1="511.5" y1="290.5" x2="533.5" y2="290.5" stroke="#e8e800" stroke-width="2.0"/>
<line x1="511.5" y1="303.6" x2="532.8" y2="303.6" stroke="#e8e800" stroke-width="2.0"/>
<line x1="511.5" y1="315.9" x2="532.0" y2="315.9" stroke="#00e000" stroke-width="2.0"/>
<line x1="511.5" y1="327.5" x2="531.0" y2="327.5" stroke="#00e000" stroke-width="2.0"/>
<line x1="511.5" y1="338.4" x2="529.2" y2="338.4" stroke="#00e000" stroke-width="2.0"/>
<line x1="511.5" y1="348.8" x2="528.4" y2="348.8" stroke="#00e000" stroke-width="2.0"/>
<line x1="511.5" y1="358.6" x2="527.0" y2="358.6" stroke="#00e000" stroke-width="2.0"/>
<line x1="511.5" y1="367.9" x2="527.0" y2="367.9" stroke="#00e000" stroke-width="2.0"/>
<line x1="511.5" y1="376.8" x2="525.8" y2="376.8" stroke="#00e000" stroke-width="2.0"/>
<line x1="511.5" y1="385.3" x2="523.7" y2="385.3" stroke="#00e000" stroke-width="2.0"/>
<line x1="511.5" y1="393.4" x2="523.7" y2="393.4" stroke="#f00000" stroke-width="2.0"/>
<line x1="511.5" y1="401.3" x2="522.4" y2="401.3" stroke="#f00000" stroke-width="2.0"/>
<line x1="511.5" y1="408.8" x2="520.6" y2="408.8" stroke="#f00000" stroke-width="2.0"/>
<line x1="511.5" y1="416.1" x2="519.3" y2="416.1" stroke="#f00000" stroke-width="2.0"/>
<line x1="511.5" y1="423.2" x2="519.3" y2="423.2" stroke="#f00000" stroke-width="2.0"/>
<line x1="511.5" y1="430.0" x2="518.5" y2="430.0" stroke="#f00000" stroke-width="2.0"/>
<line x1="511.5" y1="436.6" x2="517.7" y2="436.6" stroke="#f00000" stroke-width="2.0"/>
<line x1="511.5" y1="443.1" x2="516.7" y2="443.1" stroke="#f00000" stroke-width="2.0"/>
<line x1="511.5" y1="449.3" x2="516.4" y2="449.3" stroke="#f00000" stroke-width="2.0"/>
<line x1="511.5" y1="455.3" x2="515.4" y2="455.3" stroke="#f00000" stroke-width="2.0"/>
<line x1="511.5" y1="459.4" x2="515.0" y2="459.4" stroke="#f00000" stroke-width="2.0"/>
<line x1="511.5" y1="25.0" x2="511.5" y2="497.8" stroke="#fff" stroke-width="1.8"/>
<line x1="512.4" y1="26.0" x2="512.4" y2="497.0" stroke="#c08868" stroke-width="0.9" stroke-dasharray="3.4 1.8"/>
<line x1="564.0" y1="25.0" x2="564.0" y2="497.8" stroke="#fff" stroke-width="1.8"/>
<line x1="598.8" y1="25.0" x2="598.8" y2="497.8" stroke="#fff" stroke-width="1.8"/>
<text x="566.3" y="35.5" font-size="9.40" fill="#fff" text-anchor="start" stroke="#fff" stroke-width="0.34" textLength="12.4" lengthAdjust="spacingAndGlyphs">Inf.</text>
<text x="566.3" y="46.8" font-size="9.40" fill="#fff" text-anchor="start" stroke="#fff" stroke-width="0.34" textLength="26.5" lengthAdjust="spacingAndGlyphs">Temp.</text>
<line x1="581.5" y1="26.0" x2="581.5" y2="127.6" stroke="#cccccc" stroke-width="1.6" stroke-dasharray="3.4 1.8"/>
<line x1="581.5" y1="459.8" x2="581.5" y2="497.0" stroke="#cccccc" stroke-width="1.6" stroke-dasharray="3.4 1.8"/>
<line x1="581.6" y1="222.3" x2="581.6" y2="459.8" stroke="#3090d0" stroke-width="1.6"/>
<rect x="581.6" y="127.6" width="4.2" height="94.7" stroke="#e00000" fill="none" stroke-width="1.1"/>
<rect x="581.6" y="334.7" width="2.9" height="38.1" stroke="#e00000" fill="none" stroke-width="1.1"/>
<rect x="581.6" y="372.8" width="1.9" height="33.8" stroke="#e00000" fill="none" stroke-width="1.0"/>
<line x1="582.2" y1="406.6" x2="582.2" y2="435.1" stroke="#e00000" stroke-width="1.6"/>
<text x="582.6" y="179.8" font-size="8.40" fill="#e00000" text-anchor="start" stroke="#e00000" stroke-width="0.30">3.0</text>
<text x="583.2" y="359.1" font-size="8.40" fill="#e00000" text-anchor="start" stroke="#e00000" stroke-width="0.30">2.1</text>
<text x="583.2" y="394.7" font-size="8.40" fill="#e00000" text-anchor="start" stroke="#e00000" stroke-width="0.30">1.4</text>
<text x="583.2" y="425.1" font-size="8.40" fill="#e00000" text-anchor="start" stroke="#e00000" stroke-width="0.30">0.9</text>
<text x="580.3" y="259.7" font-size="8.40" fill="#3090d0" text-anchor="end" stroke="#3090d0" stroke-width="0.30">-0.2</text>
<text x="580.3" y="316.0" font-size="8.40" fill="#3090d0" text-anchor="end" stroke="#3090d0" stroke-width="0.30">-0.5</text>
<text x="580.3" y="452.3" font-size="8.40" fill="#3090d0" text-anchor="end" stroke="#3090d0" stroke-width="0.30">-0.2</text>
<g clip-path="url(#hoc)">
<circle cx="807.0" cy="203.0" r="20.8" stroke="#525252" fill="none" stroke-width="1.25" stroke-dasharray="3.6 1.9"/>
<circle cx="807.0" cy="203.0" r="41.6" stroke="#525252" fill="none" stroke-width="1.25" stroke-dasharray="3.6 1.9"/>
<circle cx="807.0" cy="203.0" r="62.4" stroke="#525252" fill="none" stroke-width="1.25" stroke-dasharray="3.6 1.9"/>
<circle cx="807.0" cy="203.0" r="83.2" stroke="#525252" fill="none" stroke-width="1.25" stroke-dasharray="3.6 1.9"/>
<circle cx="807.0" cy="203.0" r="104.0" stroke="#525252" fill="none" stroke-width="1.25" stroke-dasharray="3.6 1.9"/>
<circle cx="807.0" cy="203.0" r="124.8" stroke="#525252" fill="none" stroke-width="1.25" stroke-dasharray="3.6 1.9"/>
<circle cx="807.0" cy="203.0" r="145.6" stroke="#525252" fill="none" stroke-width="1.25" stroke-dasharray="3.6 1.9"/>
<circle cx="807.0" cy="203.0" r="166.4" stroke="#525252" fill="none" stroke-width="1.25" stroke-dasharray="3.6 1.9"/>
<circle cx="807.0" cy="203.0" r="187.2" stroke="#525252" fill="none" stroke-width="1.25" stroke-dasharray="3.6 1.9"/>
<circle cx="807.0" cy="203.0" r="208.0" stroke="#525252" fill="none" stroke-width="1.25" stroke-dasharray="3.6 1.9"/>
</g>
<line x1="599.0" y1="203.0" x2="1016.0" y2="203.0" stroke="#fff" stroke-width="1.8"/>
<line x1="807.0" y1="25.0" x2="807.0" y2="381.7" stroke="#fff" stroke-width="1.8"/>
<g clip-path="url(#hoc)">
<text x="830.4" y="216.4" font-size="9.40" fill="#f0f0f0" text-anchor="middle" stroke="#f0f0f0" stroke-width="0.34">10</text>
<text x="788.2" y="216.4" font-size="9.40" fill="#f0f0f0" text-anchor="middle" stroke="#f0f0f0" stroke-width="0.34">10</text>
<text x="851.2" y="216.4" font-size="9.40" fill="#f0f0f0" text-anchor="middle" stroke="#f0f0f0" stroke-width="0.34">20</text>
<text x="767.4" y="216.4" font-size="9.40" fill="#f0f0f0" text-anchor="middle" stroke="#f0f0f0" stroke-width="0.34">20</text>
<text x="872.0" y="216.4" font-size="9.40" fill="#f0f0f0" text-anchor="middle" stroke="#f0f0f0" stroke-width="0.34">30</text>
<text x="746.6" y="216.4" font-size="9.40" fill="#f0f0f0" text-anchor="middle" stroke="#f0f0f0" stroke-width="0.34">30</text>
<text x="892.8" y="216.4" font-size="9.40" fill="#f0f0f0" text-anchor="middle" stroke="#f0f0f0" stroke-width="0.34">40</text>
<text x="725.8" y="216.4" font-size="9.40" fill="#f0f0f0" text-anchor="middle" stroke="#f0f0f0" stroke-width="0.34">40</text>
<text x="913.6" y="216.4" font-size="9.40" fill="#f0f0f0" text-anchor="middle" stroke="#f0f0f0" stroke-width="0.34">50</text>
<text x="705.0" y="216.4" font-size="9.40" fill="#f0f0f0" text-anchor="middle" stroke="#f0f0f0" stroke-width="0.34">50</text>
<text x="934.4" y="216.4" font-size="9.40" fill="#f0f0f0" text-anchor="middle" stroke="#f0f0f0" stroke-width="0.34">60</text>
<text x="684.2" y="216.4" font-size="9.40" fill="#f0f0f0" text-anchor="middle" stroke="#f0f0f0" stroke-width="0.34">60</text>
<text x="955.2" y="216.4" font-size="9.40" fill="#f0f0f0" text-anchor="middle" stroke="#f0f0f0" stroke-width="0.34">70</text>
<text x="663.4" y="216.4" font-size="9.40" fill="#f0f0f0" text-anchor="middle" stroke="#f0f0f0" stroke-width="0.34">70</text>
<text x="976.0" y="216.4" font-size="9.40" fill="#f0f0f0" text-anchor="middle" stroke="#f0f0f0" stroke-width="0.34">80</text>
<text x="642.6" y="216.4" font-size="9.40" fill="#f0f0f0" text-anchor="middle" stroke="#f0f0f0" stroke-width="0.34">80</text>
<text x="996.8" y="216.4" font-size="9.40" fill="#f0f0f0" text-anchor="middle" stroke="#f0f0f0" stroke-width="0.34">90</text>
<text x="621.8" y="216.4" font-size="9.40" fill="#f0f0f0" text-anchor="middle" stroke="#f0f0f0" stroke-width="0.34">90</text>
<text x="1017.6" y="216.4" font-size="9.40" fill="#f0f0f0" text-anchor="middle" stroke="#f0f0f0" stroke-width="0.34">100</text>
<text x="601.0" y="216.4" font-size="9.40" fill="#f0f0f0" text-anchor="middle" stroke="#f0f0f0" stroke-width="0.34">100</text>
<text x="818.0" y="187.2" font-size="9.40" fill="#f0f0f0" text-anchor="middle" stroke="#f0f0f0" stroke-width="0.34">10</text>
<text x="818.0" y="228.8" font-size="9.40" fill="#f0f0f0" text-anchor="middle" stroke="#f0f0f0" stroke-width="0.34">10</text>
<text x="818.0" y="166.4" font-size="9.40" fill="#f0f0f0" text-anchor="middle" stroke="#f0f0f0" stroke-width="0.34">20</text>
<text x="818.0" y="249.6" font-size="9.40" fill="#f0f0f0" text-anchor="middle" stroke="#f0f0f0" stroke-width="0.34">20</text>
<text x="818.0" y="145.6" font-size="9.40" fill="#f0f0f0" text-anchor="middle" stroke="#f0f0f0" stroke-width="0.34">30</text>
<text x="818.0" y="270.4" font-size="9.40" fill="#f0f0f0" text-anchor="middle" stroke="#f0f0f0" stroke-width="0.34">30</text>
<text x="818.0" y="124.8" font-size="9.40" fill="#f0f0f0" text-anchor="middle" stroke="#f0f0f0" stroke-width="0.34">40</text>
<text x="818.0" y="291.2" font-size="9.40" fill="#f0f0f0" text-anchor="middle" stroke="#f0f0f0" stroke-width="0.34">40</text>
<text x="818.0" y="104.0" font-size="9.40" fill="#f0f0f0" text-anchor="middle" stroke="#f0f0f0" stroke-width="0.34">50</text>
<text x="818.0" y="312.0" font-size="9.40" fill="#f0f0f0" text-anchor="middle" stroke="#f0f0f0" stroke-width="0.34">50</text>
<text x="818.0" y="83.2" font-size="9.40" fill="#f0f0f0" text-anchor="middle" stroke="#f0f0f0" stroke-width="0.34">60</text>
<text x="818.0" y="332.8" font-size="9.40" fill="#f0f0f0" text-anchor="middle" stroke="#f0f0f0" stroke-width="0.34">60</text>
<text x="818.0" y="62.4" font-size="9.40" fill="#f0f0f0" text-anchor="middle" stroke="#f0f0f0" stroke-width="0.34">70</text>
<text x="818.0" y="353.6" font-size="9.40" fill="#f0f0f0" text-anchor="middle" stroke="#f0f0f0" stroke-width="0.34">70</text>
<text x="818.0" y="41.6" font-size="9.40" fill="#f0f0f0" text-anchor="middle" stroke="#f0f0f0" stroke-width="0.34">80</text>
<text x="818.0" y="374.4" font-size="9.40" fill="#f0f0f0" text-anchor="middle" stroke="#f0f0f0" stroke-width="0.34">80</text>
</g>
<text x="612.2" y="361.1" font-size="11.00" fill="#00d4d4" text-anchor="start" stroke="#00d4d4" stroke-width="0.55" textLength="90.5" lengthAdjust="spacingAndGlyphs">Critical Angle = 61</text>
<polyline points="811.7,188.5 864.7,176.4 823.4,162.2" fill="none" stroke="#00a8a8" stroke-width="1.3"/>
<g stroke-linejoin="round" stroke-linecap="round">
<polyline points="811.7,188.5 814.3,178.8" fill="none" stroke="#c000c0" stroke-width="1.9"/>
<polyline points="814.3,178.8 814.6,174.5 812.7,170.3 811.2,166.5 816.3,162.6 824.4,160.0 833.5,153.6 838.0,148.5 841.5,145.5" fill="none" stroke="#f00000" stroke-width="1.9"/>
<polyline points="841.5,145.5 863.7,142.0 881.5,139.8 899.5,137.4" fill="none" stroke="#00e800" stroke-width="1.9"/>
<polyline points="899.5,137.4 900.5,133.4 895.0,115.2 901.0,112.6" fill="none" stroke="#e8e800" stroke-width="1.9"/>
<polyline points="901.0,112.6 909.1,112.6 931.3,106.7 941.4,109.6 945.5,120.3 948.0,126.3" fill="none" stroke="#00e0e8" stroke-width="1.9"/>
</g>
<circle cx="824.0" cy="131.0" r="4.6" stroke="#b0b0b0" fill="none" stroke-width="1.4"/>
<circle cx="864.7" cy="176.4" r="4.6" stroke="#b0b0b0" fill="none" stroke-width="1.4"/>
<circle cx="847.2" cy="176.4" r="2.5" stroke="#1490d0" fill="none" stroke-width="1.0"/>
<circle cx="894.4" cy="121.3" r="2.5" stroke="#1490d0" fill="none" stroke-width="1.0"/>
<rect x="851.2" y="152.0" width="5.4" height="5.4" stroke="#b08010" fill="none" stroke-width="1.5"/>
<text x="829.4" y="142.9" font-size="9.20" fill="#f0f0f0" text-anchor="start" stroke="#f0f0f0" stroke-width="0.33" textLength="41.0" lengthAdjust="spacingAndGlyphs">193/36 LM</text>
<text x="868.8" y="188.9" font-size="9.20" fill="#f0f0f0" text-anchor="start" stroke="#f0f0f0" stroke-width="0.33" textLength="43.0" lengthAdjust="spacingAndGlyphs">245/30 RM</text>
<text x="852.2" y="184.8" font-size="9.20" fill="#1094d4" text-anchor="start" stroke="#1094d4" stroke-width="0.33" textLength="44.0" lengthAdjust="spacingAndGlyphs">UP=237/23</text>
<text x="900.0" y="131.0" font-size="9.20" fill="#1094d4" text-anchor="start" stroke="#1094d4" stroke-width="0.33" textLength="43.5" lengthAdjust="spacingAndGlyphs">DN=227/57</text>
<text x="858.3" y="159.2" font-size="9.20" fill="#b08010" text-anchor="start" stroke="#b08010" stroke-width="0.33" textLength="28.0" lengthAdjust="spacingAndGlyphs">220/35</text>
<circle cx="811.7" cy="188.5" r="3.6" stroke="#a8a8a8" fill="#d4d4d4" stroke-width="0.6"/>
<text x="811.7" y="190.3" font-size="5.40" fill="#444" text-anchor="middle" stroke="#444" stroke-width="0.19">0</text>
<circle cx="812.7" cy="170.3" r="3.6" stroke="#a8a8a8" fill="#d4d4d4" stroke-width="0.6"/>
<text x="812.7" y="172.1" font-size="5.40" fill="#444" text-anchor="middle" stroke="#444" stroke-width="0.19">1</text>
<circle cx="824.4" cy="160.0" r="3.6" stroke="#a8a8a8" fill="#d4d4d4" stroke-width="0.6"/>
<text x="824.4" y="161.8" font-size="5.40" fill="#444" text-anchor="middle" stroke="#444" stroke-width="0.19">2</text>
<circle cx="841.5" cy="145.5" r="3.6" stroke="#a8a8a8" fill="#d4d4d4" stroke-width="0.6"/>
<text x="841.5" y="147.3" font-size="5.40" fill="#444" text-anchor="middle" stroke="#444" stroke-width="0.19">3</text>
<circle cx="863.7" cy="142.0" r="3.6" stroke="#a8a8a8" fill="#d4d4d4" stroke-width="0.6"/>
<text x="863.7" y="143.8" font-size="5.40" fill="#444" text-anchor="middle" stroke="#444" stroke-width="0.19">4</text>
<circle cx="881.5" cy="139.8" r="3.6" stroke="#a8a8a8" fill="#d4d4d4" stroke-width="0.6"/>
<text x="881.5" y="141.6" font-size="5.40" fill="#444" text-anchor="middle" stroke="#444" stroke-width="0.19">5</text>
<circle cx="899.5" cy="137.4" r="3.6" stroke="#a8a8a8" fill="#d4d4d4" stroke-width="0.6"/>
<text x="899.5" y="139.2" font-size="5.40" fill="#444" text-anchor="middle" stroke="#444" stroke-width="0.19">6</text>
<line x1="1015.6" y1="25.0" x2="1015.6" y2="381.7" stroke="#e8e8e8" stroke-width="1.2"/>
<line x1="1016.0" y1="381.7" x2="1016.0" y2="497.8" stroke="#fff" stroke-width="1.8"/>
<line x1="599.0" y1="381.7" x2="1016.0" y2="381.7" stroke="#fff" stroke-width="1.8"/>
<line x1="651.0" y1="382.5" x2="651.0" y2="497.0" stroke="#12427e" stroke-width="1.9"/>
<line x1="599.5" y1="439.9" x2="702.5" y2="439.9" stroke="#12427e" stroke-width="1.9"/>
<g clip-path="url(#sl)">
<circle cx="651.0" cy="439.9" r="4.8" stroke="#f00000" fill="none" stroke-width="1.1"/>
<circle cx="649.0" cy="439.5" r="4.8" stroke="#f00000" fill="none" stroke-width="1.1"/>
<circle cx="647.0" cy="439.1" r="4.8" stroke="#f00000" fill="none" stroke-width="1.1"/>
<circle cx="645.0" cy="438.7" r="4.8" stroke="#f00000" fill="none" stroke-width="1.1"/>
<circle cx="643.1" cy="438.3" r="4.8" stroke="#f00000" fill="none" stroke-width="1.1"/>
<circle cx="641.1" cy="438.0" r="4.8" stroke="#f00000" fill="none" stroke-width="1.1"/>
<circle cx="639.1" cy="437.7" r="4.8" stroke="#f00000" fill="none" stroke-width="1.1"/>
<circle cx="637.1" cy="437.5" r="4.8" stroke="#f00000" fill="none" stroke-width="1.1"/>
<circle cx="635.1" cy="437.3" r="4.8" stroke="#f00000" fill="none" stroke-width="1.1"/>
<circle cx="633.1" cy="437.2" r="4.8" stroke="#f00000" fill="none" stroke-width="1.1"/>
<circle cx="631.2" cy="437.1" r="4.8" stroke="#f00000" fill="none" stroke-width="1.1"/>
<circle cx="629.2" cy="437.0" r="4.8" stroke="#f00000" fill="none" stroke-width="1.1"/>
<circle cx="627.2" cy="436.9" r="4.8" stroke="#f00000" fill="none" stroke-width="1.1"/>
<circle cx="625.2" cy="436.9" r="4.8" stroke="#f00000" fill="none" stroke-width="1.1"/>
<circle cx="621.0" cy="433.6" r="4.7" stroke="#00e000" fill="none" stroke-width="0.85"/>
<circle cx="620.2" cy="431.8" r="4.7" stroke="#00e000" fill="none" stroke-width="0.85"/>
<circle cx="619.9" cy="429.8" r="4.7" stroke="#00e000" fill="none" stroke-width="0.85"/>
<circle cx="620.2" cy="428.0" r="4.7" stroke="#00e000" fill="none" stroke-width="0.85"/>
<circle cx="621.2" cy="426.3" r="4.7" stroke="#00e000" fill="none" stroke-width="0.85"/>
<circle cx="622.7" cy="424.3" r="4.7" stroke="#d8d800" fill="none" stroke-width="0.85"/>
<circle cx="624.0" cy="422.4" r="4.7" stroke="#d8d800" fill="none" stroke-width="0.85"/>
<circle cx="625.2" cy="419.4" r="4.7" stroke="#00c0c0" fill="none" stroke-width="0.9"/>
<circle cx="633.3" cy="413.2" r="4.7" stroke="#b000c0" fill="none" stroke-width="1.0"/>
</g>
<line x1="651.0" y1="439.4" x2="674.7" y2="428.3" stroke="#f0f0f0" stroke-width="2.0" stroke-linecap="round"/>
<text x="698.0" y="391.4" font-size="8.80" fill="#f0f0f0" text-anchor="end" stroke="#f0f0f0" stroke-width="0.32" textLength="33.0" lengthAdjust="spacingAndGlyphs">76.0 deg</text>
<text x="603.4" y="495.0" font-size="8.80" fill="#f0f0f0" text-anchor="start" textLength="48.5" lengthAdjust="spacingAndGlyphs">Storm Slinky</text>
<line x1="703.0" y1="381.7" x2="703.0" y2="497.8" stroke="#fff" stroke-width="1.8"/>
<line x1="703.5" y1="406.3" x2="708.0" y2="406.3" stroke="#fff" stroke-width="1.5"/>
<text x="711.7" y="408.9" font-size="8.80" fill="#f0f0f0" text-anchor="start" stroke="#f0f0f0" stroke-width="0.32">600</text>
<line x1="703.5" y1="439.8" x2="708.0" y2="439.8" stroke="#fff" stroke-width="1.5"/>
<text x="711.7" y="442.4" font-size="8.80" fill="#f0f0f0" text-anchor="start" stroke="#f0f0f0" stroke-width="0.32">700</text>
<line x1="703.5" y1="474.0" x2="708.0" y2="474.0" stroke="#fff" stroke-width="1.5"/>
<text x="711.7" y="476.6" font-size="8.80" fill="#f0f0f0" text-anchor="start" stroke="#f0f0f0" stroke-width="0.32">800</text>
<line x1="703.5" y1="508.6" x2="708.0" y2="508.6" stroke="#fff" stroke-width="1.5"/>
<text x="711.7" y="511.2" font-size="8.80" fill="#f0f0f0" text-anchor="start" stroke="#f0f0f0" stroke-width="0.32">900</text>
<line x1="713.2" y1="493.4" x2="713.2" y2="497.5" stroke="#fff" stroke-width="1.3"/>
<text x="713.2" y="491.1" font-size="8.80" fill="#f0f0f0" text-anchor="middle" stroke="#f0f0f0" stroke-width="0.32">330</text>
<line x1="738.0" y1="493.4" x2="738.0" y2="497.5" stroke="#fff" stroke-width="1.3"/>
<text x="738.0" y="491.1" font-size="8.80" fill="#f0f0f0" text-anchor="middle" stroke="#f0f0f0" stroke-width="0.32">340</text>
<line x1="762.5" y1="493.4" x2="762.5" y2="497.5" stroke="#fff" stroke-width="1.3"/>
<text x="762.5" y="491.1" font-size="8.80" fill="#f0f0f0" text-anchor="middle" stroke="#f0f0f0" stroke-width="0.32">350</text>
<g clip-path="url(#thc)">
<polyline points="730.9,389.7 736.0,397.5 741.8,405.5 742.8,412.0 743.6,425.0 744.5,432.3 747.0,436.5 749.9,439.8 761.0,448.5 773.7,458.2 778.0,462.5 780.8,466.9 782.0,476.0 783.4,484.1 788.8,492.8 795.3,497.8" fill="none" stroke="#f00000" stroke-width="1.9" stroke-linejoin="round"/>
</g>
<line x1="808.0" y1="381.7" x2="808.0" y2="497.8" stroke="#fff" stroke-width="1.8"/>
<line x1="808.5" y1="481.0" x2="812.5" y2="481.0" stroke="#e0e0e0" stroke-width="1.1"/>
<line x1="907.4" y1="481.0" x2="911.5" y2="481.0" stroke="#e0e0e0" stroke-width="1.1"/>
<text x="821.2" y="483.6" font-size="6.60" fill="#e8e8e8" text-anchor="middle" stroke="#e8e8e8" stroke-width="0.24">2</text>
<line x1="808.5" y1="466.5" x2="812.5" y2="466.5" stroke="#e0e0e0" stroke-width="1.1"/>
<line x1="907.4" y1="466.5" x2="911.5" y2="466.5" stroke="#e0e0e0" stroke-width="1.1"/>
<text x="821.2" y="469.1" font-size="6.60" fill="#e8e8e8" text-anchor="middle" stroke="#e8e8e8" stroke-width="0.24">4</text>
<line x1="808.5" y1="452.0" x2="812.5" y2="452.0" stroke="#e0e0e0" stroke-width="1.1"/>
<line x1="907.4" y1="452.0" x2="911.5" y2="452.0" stroke="#e0e0e0" stroke-width="1.1"/>
<text x="821.2" y="454.6" font-size="6.60" fill="#e8e8e8" text-anchor="middle" stroke="#e8e8e8" stroke-width="0.24">6</text>
<line x1="808.5" y1="437.5" x2="812.5" y2="437.5" stroke="#e0e0e0" stroke-width="1.1"/>
<line x1="907.4" y1="437.5" x2="911.5" y2="437.5" stroke="#e0e0e0" stroke-width="1.1"/>
<text x="821.2" y="440.1" font-size="6.60" fill="#e8e8e8" text-anchor="middle" stroke="#e8e8e8" stroke-width="0.24">8</text>
<line x1="808.5" y1="423.0" x2="812.5" y2="423.0" stroke="#e0e0e0" stroke-width="1.1"/>
<line x1="907.4" y1="423.0" x2="911.5" y2="423.0" stroke="#e0e0e0" stroke-width="1.1"/>
<text x="821.2" y="425.6" font-size="6.60" fill="#e8e8e8" text-anchor="middle" stroke="#e8e8e8" stroke-width="0.24">10</text>
<line x1="808.5" y1="408.5" x2="812.5" y2="408.5" stroke="#e0e0e0" stroke-width="1.1"/>
<line x1="907.4" y1="408.5" x2="911.5" y2="408.5" stroke="#e0e0e0" stroke-width="1.1"/>
<text x="821.2" y="411.1" font-size="6.60" fill="#e8e8e8" text-anchor="middle" stroke="#e8e8e8" stroke-width="0.24">12</text>
<line x1="808.5" y1="394.0" x2="812.5" y2="394.0" stroke="#e0e0e0" stroke-width="1.1"/>
<line x1="907.4" y1="394.0" x2="911.5" y2="394.0" stroke="#e0e0e0" stroke-width="1.1"/>
<text x="821.2" y="396.6" font-size="6.60" fill="#e8e8e8" text-anchor="middle" stroke="#e8e8e8" stroke-width="0.24">14</text>
<line x1="821.2" y1="492.8" x2="821.2" y2="497.5" stroke="#e0e0e0" stroke-width="1.1"/>
<line x1="821.2" y1="382.0" x2="821.2" y2="385.8" stroke="#e0e0e0" stroke-width="1.1"/>
<line x1="836.0" y1="492.8" x2="836.0" y2="497.5" stroke="#e0e0e0" stroke-width="1.1"/>
<line x1="836.0" y1="382.0" x2="836.0" y2="385.8" stroke="#e0e0e0" stroke-width="1.1"/>
<line x1="850.7" y1="492.8" x2="850.7" y2="497.5" stroke="#e0e0e0" stroke-width="1.1"/>
<line x1="850.7" y1="382.0" x2="850.7" y2="385.8" stroke="#e0e0e0" stroke-width="1.1"/>
<line x1="865.5" y1="492.8" x2="865.5" y2="497.5" stroke="#e0e0e0" stroke-width="1.1"/>
<line x1="865.5" y1="382.0" x2="865.5" y2="385.8" stroke="#e0e0e0" stroke-width="1.1"/>
<line x1="880.2" y1="492.8" x2="880.2" y2="497.5" stroke="#e0e0e0" stroke-width="1.1"/>
<line x1="880.2" y1="382.0" x2="880.2" y2="385.8" stroke="#e0e0e0" stroke-width="1.1"/>
<line x1="895.0" y1="492.8" x2="895.0" y2="497.5" stroke="#e0e0e0" stroke-width="1.1"/>
<line x1="895.0" y1="382.0" x2="895.0" y2="385.8" stroke="#e0e0e0" stroke-width="1.1"/>
<line x1="909.7" y1="492.8" x2="909.7" y2="497.5" stroke="#e0e0e0" stroke-width="1.1"/>
<line x1="909.7" y1="382.0" x2="909.7" y2="385.8" stroke="#e0e0e0" stroke-width="1.1"/>
<line x1="829.2" y1="382.5" x2="829.2" y2="497.0" stroke="#d8d8d8" stroke-width="1.3" stroke-dasharray="3 2.4"/>
<line x1="865.9" y1="382.5" x2="865.9" y2="437.7" stroke="#860090" stroke-width="1.3" stroke-dasharray="3 2.4"/>
<line x1="909.8" y1="382.5" x2="909.8" y2="437.7" stroke="#860090" stroke-width="1.3" stroke-dasharray="3 2.4"/>
<text x="840.4" y="395.9" font-size="6.30" fill="#e8e8e8" text-anchor="middle" stroke="#e8e8e8" stroke-width="0.23">SR Wind</text>
<text x="840.4" y="403.9" font-size="6.30" fill="#e8e8e8" text-anchor="middle" stroke="#e8e8e8" stroke-width="0.23">v.</text>
<text x="840.4" y="411.6" font-size="6.30" fill="#e8e8e8" text-anchor="middle" stroke="#e8e8e8" stroke-width="0.23">Height</text>
<text x="883.2" y="403.9" font-size="6.30" fill="#900098" text-anchor="middle" stroke="#900098" stroke-width="0.23">Classic</text>
<text x="883.2" y="411.6" font-size="6.30" fill="#900098" text-anchor="middle" stroke="#900098" stroke-width="0.23">Supercell</text>
<g clip-path="url(#src)">
<polyline points="821.2,384.1 843.2,393.4 857.3,402.0 875.6,409.6 878.5,414.3 875.6,420.4 869.2,423.6 861.6,425.8 855.1,436.6 854.0,439.8 846.5,449.6 835.7,459.3 831.3,467.9 834.6,472.3 835.7,477.7 841.1,480.9 843.2,486.3 841.1,490.6 844.7,496.7" fill="none" stroke="#f00000" stroke-width="1.9" stroke-linejoin="round"/>
</g>
<line x1="868.1" y1="415.0" x2="868.1" y2="430.8" stroke="#a010e0" stroke-width="1.7"/>
<line x1="835.9" y1="451.1" x2="835.9" y2="467.5" stroke="#4a90f0" stroke-width="1.5"/>
<line x1="912.0" y1="381.7" x2="912.0" y2="497.8" stroke="#fff" stroke-width="1.8"/>
<text x="964.0" y="396.6" font-size="12.00" fill="#f0f0f0" text-anchor="middle" stroke="#f0f0f0" stroke-width="0.43" textLength="80.5" lengthAdjust="spacingAndGlyphs">Psbl Haz. Type</text>
<line x1="912.0" y1="403.1" x2="1016.0" y2="403.1" stroke="#c8c8c8" stroke-width="1.5"/>
<text x="964.0" y="450.2" font-size="12.40" fill="#e80000" text-anchor="middle" stroke="#e80000" stroke-width="0.45" textLength="23.0" lengthAdjust="spacingAndGlyphs">TOR</text>
<text x="41.7" y="527.7" font-size="9.45" fill="#f2f2f2" text-anchor="middle" stroke="#f2f2f2" stroke-width="0.34">PCL</text>
<text x="72.8" y="527.7" font-size="9.45" fill="#f2f2f2" text-anchor="middle" stroke="#f2f2f2" stroke-width="0.34">CAPE</text>
<text x="104.0" y="527.7" font-size="9.45" fill="#f2f2f2" text-anchor="middle" stroke="#f2f2f2" stroke-width="0.34">CINH</text>
<text x="135.4" y="527.7" font-size="9.45" fill="#f2f2f2" text-anchor="middle" stroke="#f2f2f2" stroke-width="0.34">LCL</text>
<text x="166.2" y="527.7" font-size="9.45" fill="#f2f2f2" text-anchor="middle" stroke="#f2f2f2" stroke-width="0.34">LI</text>
<text x="197.5" y="527.7" font-size="9.45" fill="#f2f2f2" text-anchor="middle" stroke="#f2f2f2" stroke-width="0.34">LFC</text>
<text x="228.9" y="527.7" font-size="9.45" fill="#f2f2f2" text-anchor="middle" stroke="#f2f2f2" stroke-width="0.34">EL</text>
<line x1="11.0" y1="529.5" x2="260.0" y2="529.5" stroke="#d0d0d0" stroke-width="1.1"/>
<text x="41.7" y="541.0" font-size="9.45" fill="#f2f2f2" text-anchor="middle" stroke="#f2f2f2" stroke-width="0.34">SFC</text>
<text x="72.8" y="541.0" font-size="9.45" fill="#f00000" text-anchor="middle" stroke="#f00000" stroke-width="0.34">3468</text>
<text x="104.0" y="541.0" font-size="9.45" fill="#00e000" text-anchor="middle" stroke="#00e000" stroke-width="0.34">-2</text>
<text x="135.4" y="541.0" font-size="9.45" fill="#f2f2f2" text-anchor="middle" stroke="#f2f2f2" stroke-width="0.34">339</text>
<text x="166.2" y="541.0" font-size="9.45" fill="#f2f2f2" text-anchor="middle" stroke="#f2f2f2" stroke-width="0.34">-9</text>
<text x="197.5" y="541.0" font-size="9.45" fill="#f2f2f2" text-anchor="middle" stroke="#f2f2f2" stroke-width="0.34">412</text>
<text x="228.9" y="541.0" font-size="9.45" fill="#f2f2f2" text-anchor="middle" stroke="#f2f2f2" stroke-width="0.34">13078</text>
<text x="41.7" y="550.5" font-size="9.45" fill="#f2f2f2" text-anchor="middle" stroke="#f2f2f2" stroke-width="0.34">ML</text>
<text x="72.8" y="550.5" font-size="9.45" fill="#f2f2f2" text-anchor="middle" stroke="#f2f2f2" stroke-width="0.34">2598</text>
<text x="104.0" y="550.5" font-size="9.45" fill="#f2f2f2" text-anchor="middle" stroke="#f2f2f2" stroke-width="0.34">-7</text>
<text x="135.4" y="550.5" font-size="9.45" fill="#f2f2f2" text-anchor="middle" stroke="#f2f2f2" stroke-width="0.34">798</text>
<text x="166.2" y="550.5" font-size="9.45" fill="#f2f2f2" text-anchor="middle" stroke="#f2f2f2" stroke-width="0.34">-8</text>
<text x="197.5" y="550.5" font-size="9.45" fill="#f2f2f2" text-anchor="middle" stroke="#f2f2f2" stroke-width="0.34">1116</text>
<text x="228.9" y="550.5" font-size="9.45" fill="#f2f2f2" text-anchor="middle" stroke="#f2f2f2" stroke-width="0.34">12873</text>
<text x="41.7" y="559.8" font-size="9.45" fill="#f2f2f2" text-anchor="middle" stroke="#f2f2f2" stroke-width="0.34">FCST</text>
<text x="72.8" y="559.8" font-size="9.45" fill="#f2f2f2" text-anchor="middle" stroke="#f2f2f2" stroke-width="0.34">3563</text>
<text x="104.0" y="559.8" font-size="9.45" fill="#f2f2f2" text-anchor="middle" stroke="#f2f2f2" stroke-width="0.34">0</text>
<text x="135.4" y="559.8" font-size="9.45" fill="#f2f2f2" text-anchor="middle" stroke="#f2f2f2" stroke-width="0.34">1274</text>
<text x="166.2" y="559.8" font-size="9.45" fill="#f2f2f2" text-anchor="middle" stroke="#f2f2f2" stroke-width="0.34">-9</text>
<text x="197.5" y="559.8" font-size="9.45" fill="#f2f2f2" text-anchor="middle" stroke="#f2f2f2" stroke-width="0.34">1274</text>
<text x="228.9" y="559.8" font-size="9.45" fill="#f2f2f2" text-anchor="middle" stroke="#f2f2f2" stroke-width="0.34">13078</text>
<text x="41.7" y="569.2" font-size="9.45" fill="#f2f2f2" text-anchor="middle" stroke="#f2f2f2" stroke-width="0.34">MU</text>
<text x="72.8" y="569.2" font-size="9.45" fill="#f2f2f2" text-anchor="middle" stroke="#f2f2f2" stroke-width="0.34">3468</text>
<text x="104.0" y="569.2" font-size="9.45" fill="#f2f2f2" text-anchor="middle" stroke="#f2f2f2" stroke-width="0.34">-2</text>
<text x="135.4" y="569.2" font-size="9.45" fill="#f2f2f2" text-anchor="middle" stroke="#f2f2f2" stroke-width="0.34">339</text>
<text x="166.2" y="569.2" font-size="9.45" fill="#f2f2f2" text-anchor="middle" stroke="#f2f2f2" stroke-width="0.34">-9</text>
<text x="197.5" y="569.2" font-size="9.45" fill="#f2f2f2" text-anchor="middle" stroke="#f2f2f2" stroke-width="0.34">412</text>
<text x="228.9" y="569.2" font-size="9.45" fill="#f2f2f2" text-anchor="middle" stroke="#f2f2f2" stroke-width="0.34">13078</text>
<rect x="12.3" y="561.6" width="248.0" height="10.4" stroke="#5c3e16" fill="none" stroke-width="1"/>
<line x1="11.0" y1="574.2" x2="260.0" y2="574.2" stroke="#d0d0d0" stroke-width="1.1"/>
<text x="15.0" y="584.1" font-size="9.45" fill="#f2f2f2" text-anchor="start" stroke="#f2f2f2" stroke-width="0.34">PW = 1.5in</text>
<text x="98.1" y="584.1" font-size="9.45" fill="#f2f2f2" text-anchor="start" stroke="#f2f2f2" stroke-width="0.34">K = 45</text>
<text x="161.6" y="584.1" font-size="9.45" fill="#f2f2f2" text-anchor="start" stroke="#f2f2f2" stroke-width="0.34">WNDG = 0.9</text>
<text x="15.0" y="593.8" font-size="9.45" fill="#f2f2f2" text-anchor="start" stroke="#f2f2f2" stroke-width="0.34">MeanW = 15.3g/kg</text>
<text x="98.1" y="593.8" font-size="9.45" fill="#f2f2f2" text-anchor="start" stroke="#f2f2f2" stroke-width="0.34">TT = 55</text>
<text x="161.6" y="593.8" font-size="9.45" fill="#f2f2f2" text-anchor="start" stroke="#f2f2f2" stroke-width="0.34">TEI = 28</text>
<text x="15.0" y="603.4" font-size="9.45" fill="#f2f2f2" text-anchor="start" stroke="#f2f2f2" stroke-width="0.34">LowRH = 87%</text>
<text x="98.1" y="603.4" font-size="9.45" fill="#f2f2f2" text-anchor="start" stroke="#f2f2f2" stroke-width="0.34">ConvT = 79F</text>
<text x="161.6" y="603.4" font-size="9.45" fill="#f2f2f2" text-anchor="start" stroke="#f2f2f2" stroke-width="0.34">3CAPE = 161</text>
<text x="15.0" y="612.8" font-size="9.45" fill="#f2f2f2" text-anchor="start" stroke="#f2f2f2" stroke-width="0.34">MidRH = 78%</text>
<text x="98.1" y="612.8" font-size="9.45" fill="#f2f2f2" text-anchor="start" stroke="#f2f2f2" stroke-width="0.34">maxT = 83F</text>
<text x="15.0" y="622.5" font-size="9.45" fill="#f2f2f2" text-anchor="start" stroke="#f2f2f2" stroke-width="0.34">DCAPE = 702</text>
<text x="98.1" y="622.5" font-size="9.45" fill="#f2f2f2" text-anchor="start" stroke="#f2f2f2" stroke-width="0.34">ESP = 0.5</text>
<text x="15.0" y="632.1" font-size="9.45" fill="#f2f2f2" text-anchor="start" stroke="#f2f2f2" stroke-width="0.34">DownT = 57F</text>
<text x="98.1" y="632.1" font-size="9.45" fill="#f2f2f2" text-anchor="start" stroke="#f2f2f2" stroke-width="0.34">MMP = 0.93</text>
<text x="161.6" y="632.1" font-size="9.45" fill="#f2f2f2" text-anchor="start" stroke="#f2f2f2" stroke-width="0.34">SigSvr = 65000 m3/s3</text>
<line x1="11.0" y1="635.2" x2="260.0" y2="635.2" stroke="#d0d0d0" stroke-width="1.1"/>
<line x1="182.0" y1="635.2" x2="182.0" y2="683.0" stroke="#d0d0d0" stroke-width="1.1"/>
<text x="15.0" y="645.9" font-size="9.45" fill="#f2f2f2" text-anchor="start" stroke="#f2f2f2" stroke-width="0.34">Sfc-3km AGL LR = 7.2 C/km</text>
<text x="15.0" y="655.6" font-size="9.45" fill="#f2f2f2" text-anchor="start" stroke="#f2f2f2" stroke-width="0.34">3-6km AGL LR = 6.7 C/km</text>
<text x="15.0" y="665.1" font-size="9.45" fill="#f2f2f2" text-anchor="start" stroke="#f2f2f2" stroke-width="0.34">850-500mb LR = 7.1 C/km</text>
<text x="15.0" y="674.6" font-size="9.45" fill="#f2f2f2" text-anchor="start" stroke="#f2f2f2" stroke-width="0.34">700-500mb LR = 6.9 C/km</text>
<text x="186.6" y="645.9" font-size="9.45" fill="#f2f2f2" text-anchor="start" stroke="#f2f2f2" stroke-width="0.34">Supercell = 5.8</text>
<text x="186.6" y="655.6" font-size="9.45" fill="#f2f2f2" text-anchor="start" stroke="#f2f2f2" stroke-width="0.34">STP (cin) = 1.3</text>
<text x="186.6" y="665.1" font-size="9.45" fill="#f2f2f2" text-anchor="start" stroke="#f2f2f2" stroke-width="0.34">STP (fix) = 1.0</text>
<text x="186.6" y="674.6" font-size="9.45" fill="#e0e000" text-anchor="start" stroke="#e0e000" stroke-width="0.34">SHIP = 1.4</text>
<text x="327.8" y="529.6" font-size="9.45" fill="#f2f2f2" text-anchor="middle" stroke="#f2f2f2" stroke-width="0.34">EHI</text>
<text x="362.0" y="529.6" font-size="9.45" fill="#f2f2f2" text-anchor="middle" stroke="#f2f2f2" stroke-width="0.34">SRH</text>
<text x="407.6" y="529.6" font-size="9.45" fill="#f2f2f2" text-anchor="end" stroke="#f2f2f2" stroke-width="0.34">Shear</text>
<text x="444.4" y="529.6" font-size="9.45" fill="#f2f2f2" text-anchor="middle" stroke="#f2f2f2" stroke-width="0.34">MnWind</text>
<text x="488.5" y="529.6" font-size="9.45" fill="#f2f2f2" text-anchor="middle" stroke="#f2f2f2" stroke-width="0.34">SRW</text>
<line x1="262.0" y1="532.2" x2="511.0" y2="532.2" stroke="#d0d0d0" stroke-width="1.4"/>
<text x="266.4" y="541.9" font-size="9.45" fill="#f2f2f2" text-anchor="start" stroke="#f2f2f2" stroke-width="0.34">SFC-1km</text>
<text x="327.8" y="541.9" font-size="9.45" fill="#f2f2f2" text-anchor="middle" stroke="#f2f2f2" stroke-width="0.34">1.1</text>
<text x="371.3" y="541.9" font-size="9.45" fill="#f2f2f2" text-anchor="end" stroke="#f2f2f2" stroke-width="0.34">51</text>
<text x="407.6" y="541.9" font-size="9.45" fill="#f2f2f2" text-anchor="end" stroke="#f2f2f2" stroke-width="0.34">8</text>
<text x="456.6" y="541.9" font-size="9.45" fill="#f2f2f2" text-anchor="end" stroke="#f2f2f2" stroke-width="0.34">196/12</text>
<text x="504.9" y="541.9" font-size="9.45" fill="#f2f2f2" text-anchor="end" stroke="#f2f2f2" stroke-width="0.34">89/24</text>
<text x="266.4" y="551.1" font-size="9.45" fill="#f2f2f2" text-anchor="start" stroke="#f2f2f2" stroke-width="0.34">SFC-3km</text>
<text x="327.8" y="551.1" font-size="9.45" fill="#f2f2f2" text-anchor="middle" stroke="#f2f2f2" stroke-width="0.34">3.1</text>
<text x="371.3" y="551.1" font-size="9.45" fill="#f2f2f2" text-anchor="end" stroke="#f2f2f2" stroke-width="0.34">144</text>
<text x="407.6" y="551.1" font-size="9.45" fill="#f2f2f2" text-anchor="end" stroke="#f2f2f2" stroke-width="0.34">25</text>
<text x="456.6" y="551.1" font-size="9.45" fill="#f2f2f2" text-anchor="end" stroke="#f2f2f2" stroke-width="0.34">199/18</text>
<text x="504.9" y="551.1" font-size="9.45" fill="#f2f2f2" text-anchor="end" stroke="#f2f2f2" stroke-width="0.34">103/22</text>
<text x="266.4" y="560.4" font-size="9.45" fill="#f2f2f2" text-anchor="start" stroke="#f2f2f2" stroke-width="0.34">Eff Inflow</text>
<text x="327.8" y="560.4" font-size="9.45" fill="#f2f2f2" text-anchor="middle" stroke="#f2f2f2" stroke-width="0.34">1.8</text>
<text x="371.3" y="560.4" font-size="9.45" fill="#f2f2f2" text-anchor="end" stroke="#f2f2f2" stroke-width="0.34">84</text>
<text x="407.6" y="560.4" font-size="9.45" fill="#f2f2f2" text-anchor="end" stroke="#f2f2f2" stroke-width="0.34">13</text>
<text x="456.6" y="560.4" font-size="9.45" fill="#f2f2f2" text-anchor="end" stroke="#f2f2f2" stroke-width="0.34">193/15</text>
<text x="504.9" y="560.4" font-size="9.45" fill="#f2f2f2" text-anchor="end" stroke="#f2f2f2" stroke-width="0.34">94/24</text>
<text x="266.4" y="574.6" font-size="9.45" fill="#f2f2f2" text-anchor="start" stroke="#f2f2f2" stroke-width="0.34">SFC-6km</text>
<text x="407.6" y="574.6" font-size="9.45" fill="#f2f2f2" text-anchor="end" stroke="#f2f2f2" stroke-width="0.34">49</text>
<text x="456.6" y="574.6" font-size="9.45" fill="#f2f2f2" text-anchor="end" stroke="#f2f2f2" stroke-width="0.34">213/26</text>
<text x="504.9" y="574.6" font-size="9.45" fill="#f2f2f2" text-anchor="end" stroke="#f2f2f2" stroke-width="0.34">124/16</text>
<text x="266.4" y="584.1" font-size="9.45" fill="#f2f2f2" text-anchor="start" stroke="#f2f2f2" stroke-width="0.34">SFC-8km</text>
<text x="407.6" y="584.1" font-size="9.45" fill="#f2f2f2" text-anchor="end" stroke="#f2f2f2" stroke-width="0.34">53</text>
<text x="456.6" y="584.1" font-size="9.45" fill="#f2f2f2" text-anchor="end" stroke="#f2f2f2" stroke-width="0.34">217/29</text>
<text x="504.9" y="584.1" font-size="9.45" fill="#f2f2f2" text-anchor="end" stroke="#f2f2f2" stroke-width="0.34">137/15</text>
<text x="266.4" y="593.6" font-size="9.45" fill="#f2f2f2" text-anchor="start" stroke="#f2f2f2" stroke-width="0.34">LCL-EL (Cloud Layer)</text>
<text x="407.6" y="593.6" font-size="9.45" fill="#f2f2f2" text-anchor="end" stroke="#f2f2f2" stroke-width="0.34">55</text>
<text x="456.6" y="593.6" font-size="9.45" fill="#f2f2f2" text-anchor="end" stroke="#f2f2f2" stroke-width="0.34">220/35</text>
<text x="504.9" y="593.6" font-size="9.45" fill="#f2f2f2" text-anchor="end" stroke="#f2f2f2" stroke-width="0.34">161/15</text>
<text x="266.4" y="603.2" font-size="9.45" fill="#f2f2f2" text-anchor="start" stroke="#f2f2f2" stroke-width="0.34">Eff Shear (EBWD)</text>
<text x="407.6" y="603.2" font-size="9.45" fill="#f2f2f2" text-anchor="end" stroke="#f2f2f2" stroke-width="0.34">51</text>
<text x="456.6" y="603.2" font-size="9.45" fill="#f2f2f2" text-anchor="end" stroke="#f2f2f2" stroke-width="0.34">215/27</text>
<text x="504.9" y="603.2" font-size="9.45" fill="#f2f2f2" text-anchor="end" stroke="#f2f2f2" stroke-width="0.34">128/15</text>
<text x="266.4" y="617.3" font-size="9.45" fill="#f2f2f2" text-anchor="start" stroke="#f2f2f2" stroke-width="0.34">BRN Shear =</text>
<text x="366.7" y="617.3" font-size="9.45" fill="#f2f2f2" text-anchor="start" stroke="#f2f2f2" stroke-width="0.34">31 m2/s2</text>
<text x="266.4" y="626.9" font-size="9.45" fill="#f2f2f2" text-anchor="start" stroke="#f2f2f2" stroke-width="0.34">4-6km SR Wind =</text>
<text x="366.7" y="626.9" font-size="9.45" fill="#f2f2f2" text-anchor="start" stroke="#f2f2f2" stroke-width="0.34">193/18 kt</text>
<text x="266.4" y="640.8" font-size="9.45" fill="#f2f2f2" text-anchor="start" stroke="#f2f2f2" stroke-width="0.34">...Storm Motion Vectors...</text>
<text x="266.4" y="650.0" font-size="9.45" fill="#f2f2f2" text-anchor="start" stroke="#f2f2f2" stroke-width="0.34">Bunkers Right =</text>
<text x="366.7" y="650.0" font-size="9.45" fill="#1c98dc" text-anchor="start" stroke="#1c98dc" stroke-width="0.34">245/30 kt</text>
<text x="266.4" y="659.6" font-size="9.45" fill="#f2f2f2" text-anchor="start" stroke="#f2f2f2" stroke-width="0.34">Bunkers Left =</text>
<text x="366.7" y="659.6" font-size="9.45" fill="#f04848" text-anchor="start" stroke="#f04848" stroke-width="0.34">193/36 kt</text>
<text x="266.4" y="669.4" font-size="9.45" fill="#f2f2f2" text-anchor="start" stroke="#f2f2f2" stroke-width="0.34">Corfidi Downshear =</text>
<text x="366.7" y="669.4" font-size="9.45" fill="#f2f2f2" text-anchor="start" stroke="#f2f2f2" stroke-width="0.34">227/57 kt</text>
<text x="266.4" y="678.9" font-size="9.45" fill="#f2f2f2" text-anchor="start" stroke="#f2f2f2" stroke-width="0.34">Corfidi Upshear =</text>
<text x="366.7" y="678.9" font-size="9.45" fill="#f2f2f2" text-anchor="start" stroke="#f2f2f2" stroke-width="0.34">237/23 kt</text>
<path d="M456.9 636.7 L439 649.4 L433.7 642.4 L442 647.3 M443.1 646 L440.5 642.6" fill="none" stroke="#0c5ca4" stroke-width="1" stroke-linejoin="round"/>
<path d="M456.9 636.7 L452.7 657.2 L443.9 656.3 M453.2 654.3 L449.3 653.8" fill="none" stroke="#c40000" stroke-width="1.1" stroke-linejoin="round"/>
<text x="422.4" y="666.8" font-size="9.45" fill="#1672b8" text-anchor="start" stroke="#1672b8" stroke-width="0.47" textLength="68.4" lengthAdjust="spacingAndGlyphs">1km &amp; 6km AGL</text>
<text x="432.7" y="678.2" font-size="9.45" fill="#1672b8" text-anchor="start" stroke="#1672b8" stroke-width="0.47" textLength="47.7" lengthAdjust="spacingAndGlyphs">Wind Barbs</text>
<text x="638.5" y="536.8" font-size="17.90" fill="#f2f2f2" text-anchor="middle" stroke="#f2f2f2" stroke-width="0.64" textLength="212.5" lengthAdjust="spacingAndGlyphs">SARS - Sounding Analogs</text>
<line x1="513.0" y1="542.6" x2="763.0" y2="542.6" stroke="#d0d0d0" stroke-width="1.4"/>
<line x1="639.0" y1="542.6" x2="639.0" y2="683.0" stroke="#d0d0d0" stroke-width="1.3"/>
<text x="575.3" y="555.3" font-size="10.60" fill="#f2f2f2" text-anchor="middle" stroke="#f2f2f2" stroke-width="0.38" textLength="60.5" lengthAdjust="spacingAndGlyphs">SUPERCELL</text>
<text x="700.4" y="555.3" font-size="10.60" fill="#f2f2f2" text-anchor="middle" stroke="#f2f2f2" stroke-width="0.38" textLength="63.5" lengthAdjust="spacingAndGlyphs">SGFNT HAIL</text>
<text x="517.3" y="567.8" font-size="9.50" fill="#1c98dc" text-anchor="start" stroke="#1c98dc" stroke-width="0.52" textLength="58.5" lengthAdjust="spacingAndGlyphs">01050521.ACT</text>
<text x="631.2" y="567.8" font-size="9.50" fill="#1c98dc" text-anchor="end" stroke="#1c98dc" stroke-width="0.52" textLength="23.5" lengthAdjust="spacingAndGlyphs">WEAK</text>
<text x="517.3" y="576.5" font-size="9.50" fill="#1c98dc" text-anchor="start" stroke="#1c98dc" stroke-width="0.52" textLength="58.5" lengthAdjust="spacingAndGlyphs">04052223.P#A</text>
<text x="631.2" y="576.5" font-size="9.50" fill="#1c98dc" text-anchor="end" stroke="#1c98dc" stroke-width="0.52" textLength="23.5" lengthAdjust="spacingAndGlyphs">WEAK</text>
<text x="517.3" y="585.2" font-size="9.50" fill="#1c98dc" text-anchor="start" stroke="#1c98dc" stroke-width="0.52" textLength="58.5" lengthAdjust="spacingAndGlyphs">04052301.P#A</text>
<text x="631.2" y="585.2" font-size="9.50" fill="#1c98dc" text-anchor="end" stroke="#1c98dc" stroke-width="0.52" textLength="23.5" lengthAdjust="spacingAndGlyphs">WEAK</text>
<text x="517.3" y="593.9" font-size="9.50" fill="#1c98dc" text-anchor="start" stroke="#1c98dc" stroke-width="0.52" textLength="58.5" lengthAdjust="spacingAndGlyphs">99060620.MIW</text>
<text x="631.2" y="593.9" font-size="9.50" fill="#1c98dc" text-anchor="end" stroke="#1c98dc" stroke-width="0.52" textLength="23.5" lengthAdjust="spacingAndGlyphs">WEAK</text>
<text x="700.4" y="592.0" font-size="8.60" fill="#f2f2f2" text-anchor="middle" stroke="#f2f2f2" stroke-width="0.31" textLength="75.5" lengthAdjust="spacingAndGlyphs">No Quality Matches</text>
<text x="575.3" y="665.6" font-size="8.80" fill="#d000d0" text-anchor="middle" stroke="#d000d0" stroke-width="0.32" textLength="70.0" lengthAdjust="spacingAndGlyphs">(3 loose matches)</text>
<text x="575.3" y="678.7" font-size="8.80" fill="#d000d0" text-anchor="middle" stroke="#d000d0" stroke-width="0.32" textLength="66.0" lengthAdjust="spacingAndGlyphs">SARS: 100% TOR</text>
<text x="700.4" y="665.6" font-size="8.80" fill="#d000d0" text-anchor="middle" stroke="#d000d0" stroke-width="0.32" textLength="80.0" lengthAdjust="spacingAndGlyphs">(130 loose matches)</text>
<text x="700.4" y="678.7" font-size="8.80" fill="#d000d0" text-anchor="middle" stroke="#d000d0" stroke-width="0.32" textLength="58.0" lengthAdjust="spacingAndGlyphs">SARS: 61% SIG</text>
<line x1="764.0" y1="672.6" x2="1016.0" y2="672.6" stroke="#1450b8" stroke-width="1.7" stroke-dasharray="3.6 1.8"/>
<line x1="764.0" y1="659.8" x2="1016.0" y2="659.8" stroke="#1450b8" stroke-width="1.7" stroke-dasharray="3.6 1.8"/>
<line x1="764.0" y1="647.1" x2="1016.0" y2="647.1" stroke="#1450b8" stroke-width="1.7" stroke-dasharray="3.6 1.8"/>
<line x1="764.0" y1="634.3" x2="1016.0" y2="634.3" stroke="#1450b8" stroke-width="1.7" stroke-dasharray="3.6 1.8"/>
<line x1="764.0" y1="621.6" x2="1016.0" y2="621.6" stroke="#1450b8" stroke-width="1.7" stroke-dasharray="3.6 1.8"/>
<line x1="764.0" y1="608.8" x2="1016.0" y2="608.8" stroke="#1450b8" stroke-width="1.7" stroke-dasharray="3.6 1.8"/>
<line x1="764.0" y1="596.0" x2="1016.0" y2="596.0" stroke="#1450b8" stroke-width="1.7" stroke-dasharray="3.6 1.8"/>
<line x1="764.0" y1="583.3" x2="1016.0" y2="583.3" stroke="#1450b8" stroke-width="1.7" stroke-dasharray="3.6 1.8"/>
<line x1="764.0" y1="570.5" x2="1016.0" y2="570.5" stroke="#1450b8" stroke-width="1.7" stroke-dasharray="3.6 1.8"/>
<line x1="764.0" y1="557.8" x2="1016.0" y2="557.8" stroke="#1450b8" stroke-width="1.7" stroke-dasharray="3.6 1.8"/>
<line x1="764.0" y1="545.0" x2="1016.0" y2="545.0" stroke="#1450b8" stroke-width="1.7" stroke-dasharray="3.6 1.8"/>
<line x1="764.0" y1="532.2" x2="1016.0" y2="532.2" stroke="#1450b8" stroke-width="1.7" stroke-dasharray="3.6 1.8"/>
<text x="780.3" y="677.3" font-size="12.60" fill="#f2f2f2" text-anchor="end" stroke="#f2f2f2" stroke-width="0.45">0</text>
<text x="780.3" y="664.6" font-size="12.60" fill="#f2f2f2" text-anchor="end" stroke="#f2f2f2" stroke-width="0.45">1</text>
<text x="780.3" y="651.8" font-size="12.60" fill="#f2f2f2" text-anchor="end" stroke="#f2f2f2" stroke-width="0.45">2</text>
<text x="780.3" y="639.1" font-size="12.60" fill="#f2f2f2" text-anchor="end" stroke="#f2f2f2" stroke-width="0.45">3</text>
<text x="780.3" y="626.3" font-size="12.60" fill="#f2f2f2" text-anchor="end" stroke="#f2f2f2" stroke-width="0.45">4</text>
<text x="780.3" y="613.5" font-size="12.60" fill="#f2f2f2" text-anchor="end" stroke="#f2f2f2" stroke-width="0.45">5</text>
<text x="780.3" y="600.8" font-size="12.60" fill="#f2f2f2" text-anchor="end" stroke="#f2f2f2" stroke-width="0.45">6</text>
<text x="780.3" y="588.0" font-size="12.60" fill="#f2f2f2" text-anchor="end" stroke="#f2f2f2" stroke-width="0.45">7</text>
<text x="780.3" y="575.3" font-size="12.60" fill="#f2f2f2" text-anchor="end" stroke="#f2f2f2" stroke-width="0.45">8</text>
<text x="780.3" y="562.5" font-size="12.60" fill="#f2f2f2" text-anchor="end" stroke="#f2f2f2" stroke-width="0.45">9</text>
<text x="780.3" y="549.7" font-size="12.60" fill="#f2f2f2" text-anchor="end" stroke="#f2f2f2" stroke-width="0.45">10</text>
<text x="780.3" y="537.0" font-size="12.60" fill="#f2f2f2" text-anchor="end" stroke="#f2f2f2" stroke-width="0.45">11</text>
<text x="891.6" y="532.3" font-size="14.80" fill="#f2f2f2" text-anchor="middle" stroke="#f2f2f2" stroke-width="0.53" textLength="204.0" lengthAdjust="spacingAndGlyphs">Effective Layer STP (with CIN)</text>
<line x1="764.0" y1="655.8" x2="1016.0" y2="655.8" stroke="#e0e0e0" stroke-width="1.6"/>
<line x1="799.8" y1="532.2" x2="799.8" y2="566.3" stroke="#00f000" stroke-width="1.9"/>
<line x1="799.8" y1="638.5" x2="799.8" y2="657.0" stroke="#00f000" stroke-width="1.9"/>
<rect x="790.2" y="566.3" width="19.1" height="72.2" stroke="#00f000" fill="none" stroke-width="1.9"/>
<line x1="790.2" y1="604.7" x2="809.3" y2="604.7" stroke="#00f000" stroke-width="1.9"/>
<text x="799.8" y="682.0" font-size="8.80" fill="#f2f2f2" text-anchor="middle" stroke="#f2f2f2" stroke-width="0.32">EF4+</text>
<line x1="835.7" y1="565.5" x2="835.7" y2="614.8" stroke="#00f000" stroke-width="1.9"/>
<line x1="835.7" y1="659.5" x2="835.7" y2="670.4" stroke="#00f000" stroke-width="1.9"/>
<rect x="826.8" y="614.8" width="17.9" height="44.7" stroke="#00f000" fill="none" stroke-width="1.9"/>
<line x1="826.8" y1="640.4" x2="844.7" y2="640.4" stroke="#00f000" stroke-width="1.9"/>
<text x="835.7" y="682.0" font-size="8.80" fill="#f2f2f2" text-anchor="middle" stroke="#f2f2f2" stroke-width="0.32">EF3</text>
<line x1="871.7" y1="600.4" x2="871.7" y2="624.3" stroke="#00f000" stroke-width="1.9"/>
<line x1="871.7" y1="664.4" x2="871.7" y2="672.6" stroke="#00f000" stroke-width="1.9"/>
<rect x="862.4" y="624.3" width="18.6" height="40.1" stroke="#00f000" fill="none" stroke-width="1.9"/>
<line x1="862.4" y1="650.8" x2="881.0" y2="650.8" stroke="#00f000" stroke-width="1.9"/>
<text x="871.7" y="682.0" font-size="8.80" fill="#f2f2f2" text-anchor="middle" stroke="#f2f2f2" stroke-width="0.32">EF2</text>
<line x1="907.4" y1="614.5" x2="907.4" y2="638.5" stroke="#00f000" stroke-width="1.9"/>
<line x1="907.4" y1="667.9" x2="907.4" y2="672.6" stroke="#00f000" stroke-width="1.9"/>
<rect x="898.1" y="638.5" width="18.6" height="29.4" stroke="#00f000" fill="none" stroke-width="1.9"/>
<line x1="898.1" y1="656.8" x2="916.7" y2="656.8" stroke="#00f000" stroke-width="1.9"/>
<text x="907.4" y="682.0" font-size="8.80" fill="#f2f2f2" text-anchor="middle" stroke="#f2f2f2" stroke-width="0.32">EF1</text>
<line x1="943.4" y1="624.3" x2="943.4" y2="646.1" stroke="#00f000" stroke-width="1.9"/>
<line x1="943.4" y1="670.4" x2="943.4" y2="672.6" stroke="#00f000" stroke-width="1.9"/>
<rect x="934.5" y="646.1" width="17.7" height="24.3" stroke="#00f000" fill="none" stroke-width="1.9"/>
<line x1="934.5" y1="662.2" x2="952.2" y2="662.2" stroke="#00f000" stroke-width="1.9"/>
<text x="943.4" y="682.0" font-size="8.80" fill="#f2f2f2" text-anchor="middle" stroke="#f2f2f2" stroke-width="0.32">EF0</text>
<line x1="978.8" y1="650.0" x2="978.8" y2="662.5" stroke="#00f000" stroke-width="1.9"/>
<line x1="978.8" y1="672.6" x2="978.8" y2="672.6" stroke="#00f000" stroke-width="1.9"/>
<rect x="969.2" y="662.5" width="19.1" height="10.1" stroke="#00f000" fill="none" stroke-width="1.9"/>
<line x1="969.2" y1="669.3" x2="988.3" y2="669.3" stroke="#00f000" stroke-width="1.9"/>
<text x="978.8" y="682.0" font-size="8.80" fill="#f2f2f2" text-anchor="middle" stroke="#f2f2f2" stroke-width="0.32">NONTOR</text>
<rect x="889.4" y="532.2" width="122.1" height="76.9" stroke="#f4f4f4" fill="#000" stroke-width="1.8"/>
<line x1="889.4" y1="552.9" x2="1011.5" y2="552.9" stroke="#f4f4f4" stroke-width="1.7"/>
<text x="893.0" y="542.0" font-size="8.20" fill="#f2f2f2" text-anchor="start" stroke="#f2f2f2" stroke-width="0.30" textLength="113.5" lengthAdjust="spacingAndGlyphs">Prob EF2+ torn with supercell</text>
<g clip-path="url(#insc)">
<text x="893.0" y="551.8" font-size="8.20" fill="#f2f2f2" text-anchor="start" stroke="#f2f2f2" stroke-width="0.30" textLength="103.0" lengthAdjust="spacingAndGlyphs">Sample CLIMO = .15 sigtor</text>
</g>
<text x="893.0" y="560.8" font-size="8.40" fill="#e8e800" text-anchor="start" stroke="#e8e800" stroke-width="0.30">based on CAPE:</text>
<text x="998.4" y="560.8" font-size="8.40" fill="#e8e800" text-anchor="end" stroke="#e8e800" stroke-width="0.30">0.18</text>
<text x="893.0" y="569.7" font-size="8.40" fill="#e8e800" text-anchor="start" stroke="#e8e800" stroke-width="0.30">based on LCL:</text>
<text x="998.4" y="569.7" font-size="8.40" fill="#e8e800" text-anchor="end" stroke="#e8e800" stroke-width="0.30">0.19</text>
<text x="893.0" y="578.4" font-size="8.40" fill="#60400f" text-anchor="start" stroke="#60400f" stroke-width="0.30">based on ESRH:</text>
<text x="998.4" y="578.4" font-size="8.40" fill="#60400f" text-anchor="end" stroke="#60400f" stroke-width="0.30">0.06</text>
<text x="893.0" y="587.1" font-size="8.40" fill="#e8e800" text-anchor="start" stroke="#e8e800" stroke-width="0.30">based on EBWD:</text>
<text x="998.4" y="587.1" font-size="8.40" fill="#e8e800" text-anchor="end" stroke="#e8e800" stroke-width="0.30">0.19</text>
<text x="893.0" y="595.8" font-size="8.40" fill="#f2f2f2" text-anchor="start" stroke="#f2f2f2" stroke-width="0.30">based on STPC:</text>
<text x="998.4" y="595.8" font-size="8.40" fill="#f2f2f2" text-anchor="end" stroke="#f2f2f2" stroke-width="0.30">0.17</text>
<text x="893.0" y="604.6" font-size="8.40" fill="#a06a0c" text-anchor="start" stroke="#a06a0c" stroke-width="0.30">based on STP_fixed:</text>
<text x="998.4" y="604.6" font-size="8.40" fill="#a06a0c" text-anchor="end" stroke="#a06a0c" stroke-width="0.30">0.11</text>
<rect x="9.5" y="518.5" width="1006.0" height="166.0" stroke="#32a0dc" fill="none" stroke-width="3"/>
<line x1="261.0" y1="518.5" x2="261.0" y2="684.5" stroke="#32a0dc" stroke-width="2"/>
<line x1="512.0" y1="518.5" x2="512.0" y2="684.5" stroke="#32a0dc" stroke-width="2"/>
<line x1="763.5" y1="518.5" x2="763.5" y2="684.5" stroke="#32a0dc" stroke-width="2"/>
</svg>
</body></html>
